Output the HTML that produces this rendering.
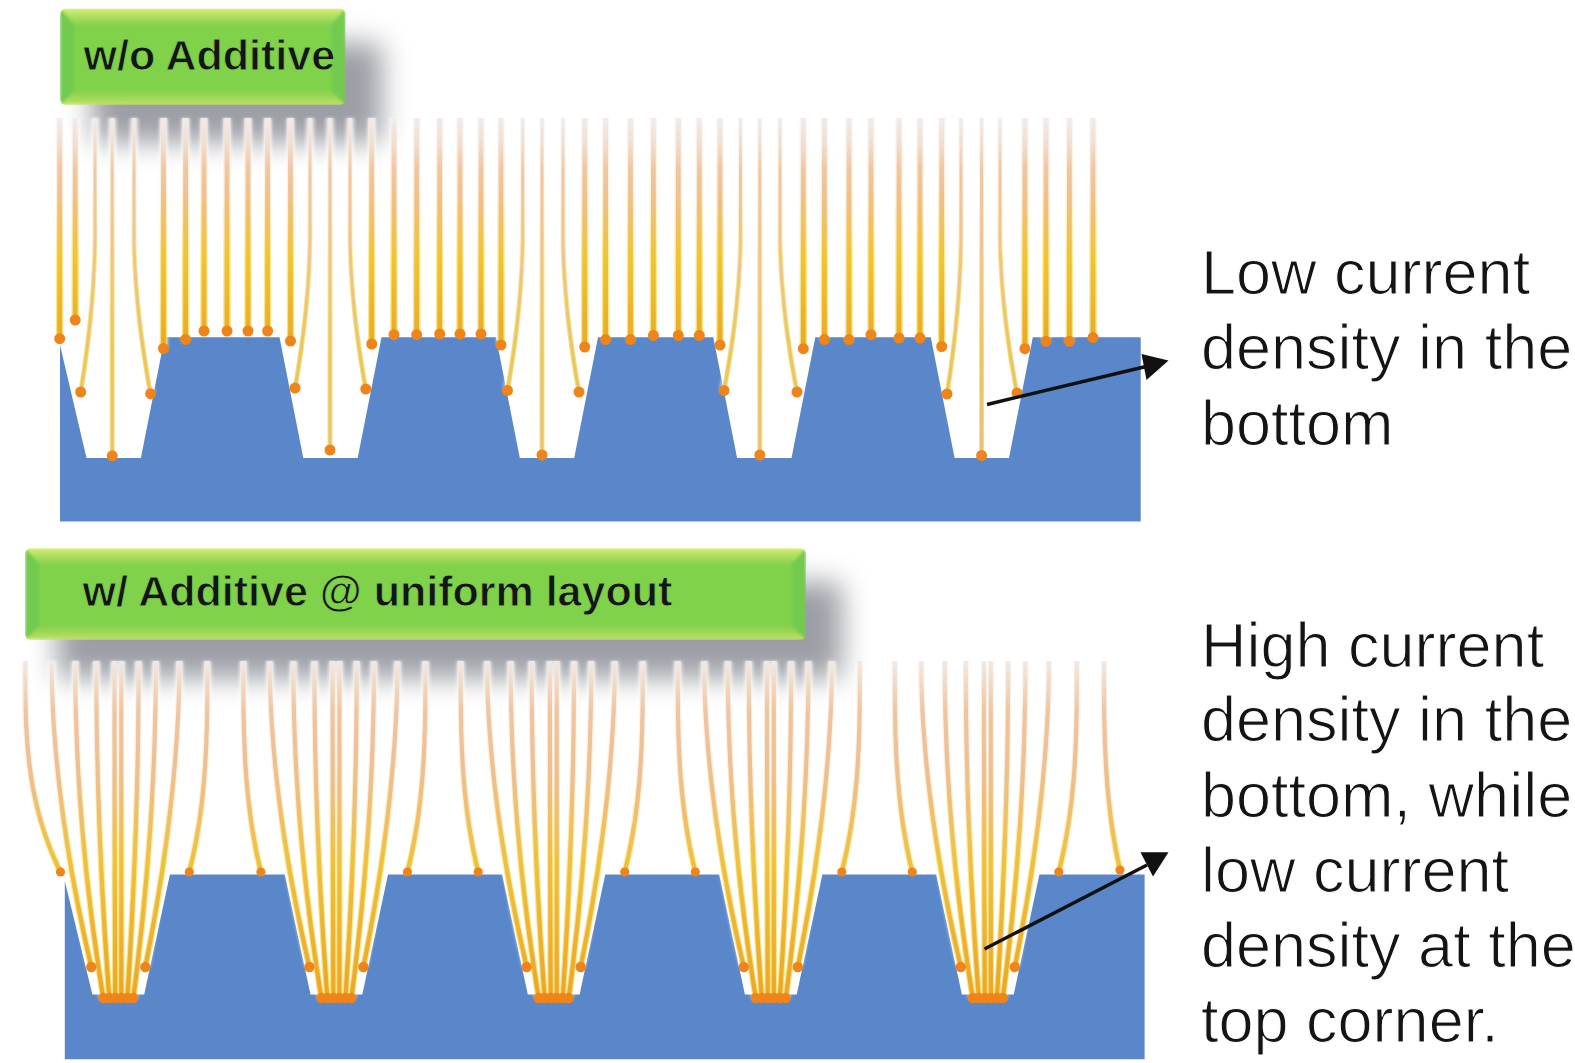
<!DOCTYPE html>
<html><head><meta charset="utf-8"><style>
html,body{margin:0;padding:0;background:#fff;}
body{width:1575px;height:1063px;overflow:hidden;font-family:"Liberation Sans",sans-serif;}
svg{display:block;}
</style></head><body>
<svg width="1575" height="1063" viewBox="0 0 1575 1063">
<defs>
<linearGradient id="lgTop" gradientUnits="userSpaceOnUse" x1="0" y1="118" x2="0" y2="350">
  <stop offset="0" stop-color="#f0ecec"/>
  <stop offset="0.12" stop-color="#f2dccc"/>
  <stop offset="0.22" stop-color="#f0c6a4"/>
  <stop offset="0.38" stop-color="#f0bf80"/>
  <stop offset="0.6" stop-color="#f0c434"/>
  <stop offset="1" stop-color="#eaa824"/>
</linearGradient>
<linearGradient id="lgTopT" gradientUnits="userSpaceOnUse" x1="0" y1="118" x2="0" y2="460">
  <stop offset="0" stop-color="#f0ecec"/>
  <stop offset="0.08" stop-color="#f2dccc"/>
  <stop offset="0.16" stop-color="#f0c6a4"/>
  <stop offset="0.4" stop-color="#efc490"/>
  <stop offset="0.7" stop-color="#eac660"/>
  <stop offset="1" stop-color="#e6c27e"/>
</linearGradient>
<linearGradient id="lgBot" gradientUnits="userSpaceOnUse" x1="0" y1="657" x2="0" y2="1000">
  <stop offset="0" stop-color="#f0ecec"/>
  <stop offset="0.08" stop-color="#f2d8c4"/>
  <stop offset="0.16" stop-color="#f0c4a0"/>
  <stop offset="0.35" stop-color="#efbe90"/>
  <stop offset="0.6" stop-color="#efc040"/>
  <stop offset="1" stop-color="#eca624"/>
</linearGradient>
<linearGradient id="lgEdgeT" gradientUnits="userSpaceOnUse" x1="0" y1="118" x2="0" y2="350">
  <stop offset="0" stop-color="#f4f0ee" stop-opacity="0.6"/>
  <stop offset="0.3" stop-color="#f8e8c8" stop-opacity="0.6"/>
  <stop offset="0.6" stop-color="#f6e680" stop-opacity="0.8"/>
  <stop offset="1" stop-color="#f2d860" stop-opacity="0.8"/>
</linearGradient>
<linearGradient id="lgEdgeB" gradientUnits="userSpaceOnUse" x1="0" y1="657" x2="0" y2="1000">
  <stop offset="0" stop-color="#f4f0ee" stop-opacity="0.6"/>
  <stop offset="0.3" stop-color="#f8e8c8" stop-opacity="0.6"/>
  <stop offset="0.6" stop-color="#f6e680" stop-opacity="0.8"/>
  <stop offset="1" stop-color="#f2d860" stop-opacity="0.8"/>
</linearGradient>
<linearGradient id="gTopF" x1="0" y1="0" x2="0" y2="1">
  <stop offset="0" stop-color="#d8ee76"/><stop offset="0.35" stop-color="#b8e262"/><stop offset="1" stop-color="#8ad252"/>
</linearGradient>
<linearGradient id="gBotF" x1="0" y1="0" x2="0" y2="1">
  <stop offset="0" stop-color="#86d150"/><stop offset="0.7" stop-color="#aadc5a"/><stop offset="1" stop-color="#c8e66e"/>
</linearGradient>
<filter id="shadow" x="-30%" y="-80%" width="160%" height="260%">
  <feGaussianBlur stdDeviation="14"/>
</filter>
<filter id="soft" x="-10%" y="-10%" width="120%" height="120%">
  <feGaussianBlur stdDeviation="1.6"/>
</filter>
<filter id="bsoft" x="-5%" y="-10%" width="110%" height="120%">
  <feGaussianBlur stdDeviation="1.4"/>
</filter>
</defs>
<rect x="92" y="43" width="290" height="99" rx="8" fill="#50525e" opacity="0.56" filter="url(#shadow)"/>
<rect x="57" y="582" width="785" height="96" rx="8" fill="#50525e" opacity="0.56" filter="url(#shadow)"/>
<path d="M60.0,345.0 L86.5,458.0 L140.9,458.0 L164.7,337.2 L279.5,337.2 L303.3,458.0 L357.7,458.0 L381.5,337.2 L496.0,337.2 L519.8,458.0 L574.2,458.0 L598.0,337.2 L713.3,337.2 L737.1,458.0 L791.5,458.0 L815.3,337.2 L930.8,337.2 L954.6,458.0 L1009.0,458.0 L1032.8,337.2 L1140.7,337.2 L1140.7,521.5 L60.0,521.5 Z" fill="#5a87ca"/>
<path d="M64.8,881.0 L92.4,994.5 L144.2,994.5 L169.9,874.6 L284.8,874.6 L310.5,994.5 L362.3,994.5 L388.0,874.6 L502.1,874.6 L527.8,994.5 L579.6,994.5 L605.3,874.6 L719.2,874.6 L744.9,994.5 L796.7,994.5 L822.4,874.6 L936.2,874.6 L961.9,994.5 L1013.7,994.5 L1039.4,874.6 L1144.6,874.6 L1144.6,1059.2 L64.8,1059.2 Z" fill="#5a87ca"/>
<g fill="none" stroke="#fff" stroke-width="9" opacity="0.6" filter="url(#soft)"><path d="M59.7,118.0 L59.7,338.7"/><path d="M75.2,118.0 L75.2,320.0"/><path d="M95.0,118.0 L95.0,235.0 L95.0,240.6 L94.9,246.2 L94.7,251.8 L94.6,257.4 L94.4,263.0 L94.1,268.6 L93.8,274.2 L93.5,279.9 L93.1,285.5 L92.8,291.1 L92.3,296.7 L91.9,302.3 L91.4,307.9 L90.9,313.5 L90.4,319.1 L89.8,324.7 L89.2,330.3 L88.5,335.9 L87.9,341.5 L87.2,347.1 L86.5,352.8 L85.7,358.4 L85.0,364.0 L84.2,369.6 L83.3,375.2 L82.5,380.8 L81.6,386.4 L80.7,392.0"/><path d="M112.2,118.0 L112.2,455.8"/><path d="M134.0,118.0 L134.0,235.0 L134.0,240.7 L134.1,246.3 L134.3,252.0 L134.5,257.7 L134.7,263.3 L135.0,269.0 L135.4,274.7 L135.7,280.3 L136.2,286.0 L136.6,291.7 L137.1,297.3 L137.6,303.0 L138.2,308.7 L138.8,314.4 L139.4,320.0 L140.1,325.7 L140.8,331.4 L141.5,337.0 L142.3,342.7 L143.1,348.4 L143.9,354.0 L144.8,359.7 L145.7,365.4 L146.6,371.0 L147.5,376.7 L148.5,382.4 L149.5,388.0 L150.6,393.7"/><path d="M163.5,118.0 L163.5,348.5"/><path d="M185.6,118.0 L185.6,339.5"/><path d="M204.0,118.0 L204.0,331.0"/><path d="M227.0,118.0 L227.0,331.0"/><path d="M248.0,118.0 L248.0,331.0"/><path d="M267.6,118.0 L267.6,331.0"/><path d="M290.5,118.0 L290.5,341.0"/><path d="M310.0,118.0 L310.0,235.0 L310.0,240.5 L309.9,245.9 L309.7,251.4 L309.5,256.9 L309.3,262.3 L309.1,267.8 L308.8,273.2 L308.4,278.7 L308.1,284.2 L307.6,289.6 L307.2,295.1 L306.7,300.6 L306.2,306.0 L305.7,311.5 L305.1,317.0 L304.5,322.4 L303.9,327.9 L303.2,333.4 L302.5,338.8 L301.8,344.3 L301.1,349.8 L300.3,355.2 L299.5,360.7 L298.6,366.1 L297.8,371.6 L296.9,377.1 L296.0,382.5 L295.0,388.0"/><path d="M330.0,118.0 L330.0,450.0"/><path d="M350.0,118.0 L350.0,235.0 L350.0,240.5 L350.1,246.0 L350.3,251.5 L350.5,257.0 L350.7,262.5 L351.0,268.0 L351.3,273.5 L351.7,279.0 L352.0,284.5 L352.5,290.0 L352.9,295.5 L353.4,301.0 L354.0,306.5 L354.5,312.0 L355.1,317.5 L355.8,323.0 L356.4,328.5 L357.1,334.0 L357.9,339.5 L358.6,345.0 L359.4,350.5 L360.2,356.0 L361.1,361.5 L362.0,367.0 L362.9,372.5 L363.8,378.0 L364.8,383.5 L365.8,389.0"/><path d="M371.7,118.0 L371.7,344.0"/><path d="M394.0,118.0 L394.0,334.7"/><path d="M416.7,118.0 L416.7,334.7"/><path d="M439.7,118.0 L439.7,334.0"/><path d="M460.0,118.0 L460.0,334.0"/><path d="M481.0,118.0 L481.0,334.0"/><path d="M501.0,118.0 L501.0,345.0"/><path d="M522.7,118.0 L522.7,235.0 L522.7,240.6 L522.6,246.1 L522.4,251.7 L522.2,257.2 L522.0,262.8 L521.7,268.3 L521.4,273.9 L521.1,279.4 L520.7,285.0 L520.3,290.5 L519.9,296.1 L519.4,301.6 L518.9,307.2 L518.3,312.8 L517.7,318.3 L517.1,323.9 L516.5,329.4 L515.8,335.0 L515.1,340.5 L514.4,346.1 L513.6,351.6 L512.8,357.2 L512.0,362.7 L511.1,368.3 L510.2,373.8 L509.3,379.4 L508.4,384.9 L507.4,390.5"/><path d="M542.0,118.0 L542.0,455.0"/><path d="M563.0,118.0 L563.0,235.0 L563.0,240.6 L563.1,246.2 L563.3,251.8 L563.5,257.4 L563.7,263.0 L564.0,268.6 L564.3,274.2 L564.7,279.9 L565.1,285.5 L565.5,291.1 L566.0,296.7 L566.5,302.3 L567.0,307.9 L567.6,313.5 L568.2,319.1 L568.8,324.7 L569.5,330.3 L570.2,335.9 L571.0,341.5 L571.7,347.1 L572.5,352.8 L573.4,358.4 L574.2,364.0 L575.1,369.6 L576.0,375.2 L577.0,380.8 L578.0,386.4 L579.0,392.0"/><path d="M584.7,118.0 L584.7,347.0"/><path d="M605.6,118.0 L605.6,339.6"/><path d="M630.5,118.0 L630.5,339.6"/><path d="M653.4,118.0 L653.4,335.5"/><path d="M678.3,118.0 L678.3,335.5"/><path d="M699.3,118.0 L699.3,335.5"/><path d="M720.0,118.0 L720.0,345.0"/><path d="M740.5,118.0 L740.5,235.0 L740.5,240.6 L740.4,246.1 L740.2,251.7 L740.0,257.2 L739.8,262.8 L739.5,268.3 L739.1,273.9 L738.8,279.4 L738.4,285.0 L737.9,290.5 L737.4,296.1 L736.9,301.6 L736.4,307.2 L735.8,312.8 L735.1,318.3 L734.5,323.9 L733.8,329.4 L733.1,335.0 L732.3,340.5 L731.5,346.1 L730.7,351.6 L729.8,357.2 L728.9,362.7 L728.0,368.3 L727.0,373.8 L726.1,379.4 L725.0,384.9 L724.0,390.5"/><path d="M759.8,118.0 L759.8,455.0"/><path d="M780.0,118.0 L780.0,235.0 L780.0,240.6 L780.1,246.2 L780.3,251.8 L780.5,257.4 L780.8,263.0 L781.1,268.6 L781.4,274.2 L781.8,279.9 L782.2,285.5 L782.7,291.1 L783.2,296.7 L783.7,302.3 L784.3,307.9 L784.9,313.5 L785.5,319.1 L786.2,324.7 L786.9,330.3 L787.7,335.9 L788.5,341.5 L789.3,347.1 L790.1,352.8 L791.0,358.4 L791.9,364.0 L792.9,369.6 L793.9,375.2 L794.9,380.8 L795.9,386.4 L797.0,392.0"/><path d="M803.3,118.0 L803.3,348.7"/><path d="M824.4,118.0 L824.4,339.6"/><path d="M849.0,118.0 L849.0,339.6"/><path d="M871.0,118.0 L871.0,334.7"/><path d="M899.0,118.0 L899.0,338.0"/><path d="M920.0,118.0 L920.0,338.0"/><path d="M941.7,118.0 L941.7,346.5"/><path d="M961.0,118.0 L961.0,235.0 L961.0,240.7 L960.9,246.4 L960.7,252.0 L960.6,257.7 L960.4,263.4 L960.1,269.1 L959.8,274.8 L959.5,280.4 L959.2,286.1 L958.8,291.8 L958.4,297.5 L958.0,303.1 L957.5,308.8 L957.0,314.5 L956.4,320.2 L955.9,325.9 L955.3,331.5 L954.7,337.2 L954.0,342.9 L953.4,348.6 L952.7,354.2 L951.9,359.9 L951.2,365.6 L950.4,371.3 L949.6,377.0 L948.7,382.6 L947.9,388.3 L947.0,394.0"/><path d="M981.6,118.0 L981.6,455.5"/><path d="M1000.0,118.0 L1000.0,235.0 L1000.0,240.6 L1000.1,246.3 L1000.3,251.9 L1000.5,257.6 L1000.8,263.2 L1001.1,268.9 L1001.4,274.5 L1001.8,280.1 L1002.2,285.8 L1002.7,291.4 L1003.2,297.1 L1003.7,302.7 L1004.3,308.4 L1004.9,314.0 L1005.5,319.6 L1006.2,325.3 L1006.9,330.9 L1007.7,336.6 L1008.5,342.2 L1009.3,347.9 L1010.1,353.5 L1011.0,359.1 L1011.9,364.8 L1012.9,370.4 L1013.9,376.1 L1014.9,381.7 L1015.9,387.4 L1017.0,393.0"/><path d="M1024.9,118.0 L1024.9,348.7"/><path d="M1046.0,118.0 L1046.0,341.3"/><path d="M1069.4,118.0 L1069.4,341.3"/><path d="M1093.0,118.0 L1093.0,337.6"/></g>
<g fill="none" stroke="url(#lgEdgeT)" stroke-width="7.5"><path d="M59.7,118.0 L59.7,338.7"/><path d="M75.2,118.0 L75.2,320.0"/><path d="M163.5,118.0 L163.5,348.5"/><path d="M185.6,118.0 L185.6,339.5"/><path d="M204.0,118.0 L204.0,331.0"/><path d="M227.0,118.0 L227.0,331.0"/><path d="M248.0,118.0 L248.0,331.0"/><path d="M267.6,118.0 L267.6,331.0"/><path d="M290.5,118.0 L290.5,341.0"/><path d="M371.7,118.0 L371.7,344.0"/><path d="M394.0,118.0 L394.0,334.7"/><path d="M416.7,118.0 L416.7,334.7"/><path d="M439.7,118.0 L439.7,334.0"/><path d="M460.0,118.0 L460.0,334.0"/><path d="M481.0,118.0 L481.0,334.0"/><path d="M501.0,118.0 L501.0,345.0"/><path d="M584.7,118.0 L584.7,347.0"/><path d="M605.6,118.0 L605.6,339.6"/><path d="M630.5,118.0 L630.5,339.6"/><path d="M653.4,118.0 L653.4,335.5"/><path d="M678.3,118.0 L678.3,335.5"/><path d="M699.3,118.0 L699.3,335.5"/><path d="M720.0,118.0 L720.0,345.0"/><path d="M803.3,118.0 L803.3,348.7"/><path d="M824.4,118.0 L824.4,339.6"/><path d="M849.0,118.0 L849.0,339.6"/><path d="M871.0,118.0 L871.0,334.7"/><path d="M899.0,118.0 L899.0,338.0"/><path d="M920.0,118.0 L920.0,338.0"/><path d="M941.7,118.0 L941.7,346.5"/><path d="M1024.9,118.0 L1024.9,348.7"/><path d="M1046.0,118.0 L1046.0,341.3"/><path d="M1069.4,118.0 L1069.4,341.3"/><path d="M1093.0,118.0 L1093.0,337.6"/></g>
<g fill="none" stroke="url(#lgTop)" stroke-width="4.8"><path d="M59.7,118.0 L59.7,338.7"/><path d="M75.2,118.0 L75.2,320.0"/><path d="M163.5,118.0 L163.5,348.5"/><path d="M185.6,118.0 L185.6,339.5"/><path d="M204.0,118.0 L204.0,331.0"/><path d="M227.0,118.0 L227.0,331.0"/><path d="M248.0,118.0 L248.0,331.0"/><path d="M267.6,118.0 L267.6,331.0"/><path d="M290.5,118.0 L290.5,341.0"/><path d="M371.7,118.0 L371.7,344.0"/><path d="M394.0,118.0 L394.0,334.7"/><path d="M416.7,118.0 L416.7,334.7"/><path d="M439.7,118.0 L439.7,334.0"/><path d="M460.0,118.0 L460.0,334.0"/><path d="M481.0,118.0 L481.0,334.0"/><path d="M501.0,118.0 L501.0,345.0"/><path d="M584.7,118.0 L584.7,347.0"/><path d="M605.6,118.0 L605.6,339.6"/><path d="M630.5,118.0 L630.5,339.6"/><path d="M653.4,118.0 L653.4,335.5"/><path d="M678.3,118.0 L678.3,335.5"/><path d="M699.3,118.0 L699.3,335.5"/><path d="M720.0,118.0 L720.0,345.0"/><path d="M803.3,118.0 L803.3,348.7"/><path d="M824.4,118.0 L824.4,339.6"/><path d="M849.0,118.0 L849.0,339.6"/><path d="M871.0,118.0 L871.0,334.7"/><path d="M899.0,118.0 L899.0,338.0"/><path d="M920.0,118.0 L920.0,338.0"/><path d="M941.7,118.0 L941.7,346.5"/><path d="M1024.9,118.0 L1024.9,348.7"/><path d="M1046.0,118.0 L1046.0,341.3"/><path d="M1069.4,118.0 L1069.4,341.3"/><path d="M1093.0,118.0 L1093.0,337.6"/></g>
<g fill="none" stroke="url(#lgEdgeT)" stroke-width="5"><path d="M95.0,118.0 L95.0,235.0 L95.0,240.6 L94.9,246.2 L94.7,251.8 L94.6,257.4 L94.4,263.0 L94.1,268.6 L93.8,274.2 L93.5,279.9 L93.1,285.5 L92.8,291.1 L92.3,296.7 L91.9,302.3 L91.4,307.9 L90.9,313.5 L90.4,319.1 L89.8,324.7 L89.2,330.3 L88.5,335.9 L87.9,341.5 L87.2,347.1 L86.5,352.8 L85.7,358.4 L85.0,364.0 L84.2,369.6 L83.3,375.2 L82.5,380.8 L81.6,386.4 L80.7,392.0"/><path d="M112.2,118.0 L112.2,455.8"/><path d="M134.0,118.0 L134.0,235.0 L134.0,240.7 L134.1,246.3 L134.3,252.0 L134.5,257.7 L134.7,263.3 L135.0,269.0 L135.4,274.7 L135.7,280.3 L136.2,286.0 L136.6,291.7 L137.1,297.3 L137.6,303.0 L138.2,308.7 L138.8,314.4 L139.4,320.0 L140.1,325.7 L140.8,331.4 L141.5,337.0 L142.3,342.7 L143.1,348.4 L143.9,354.0 L144.8,359.7 L145.7,365.4 L146.6,371.0 L147.5,376.7 L148.5,382.4 L149.5,388.0 L150.6,393.7"/><path d="M310.0,118.0 L310.0,235.0 L310.0,240.5 L309.9,245.9 L309.7,251.4 L309.5,256.9 L309.3,262.3 L309.1,267.8 L308.8,273.2 L308.4,278.7 L308.1,284.2 L307.6,289.6 L307.2,295.1 L306.7,300.6 L306.2,306.0 L305.7,311.5 L305.1,317.0 L304.5,322.4 L303.9,327.9 L303.2,333.4 L302.5,338.8 L301.8,344.3 L301.1,349.8 L300.3,355.2 L299.5,360.7 L298.6,366.1 L297.8,371.6 L296.9,377.1 L296.0,382.5 L295.0,388.0"/><path d="M330.0,118.0 L330.0,450.0"/><path d="M350.0,118.0 L350.0,235.0 L350.0,240.5 L350.1,246.0 L350.3,251.5 L350.5,257.0 L350.7,262.5 L351.0,268.0 L351.3,273.5 L351.7,279.0 L352.0,284.5 L352.5,290.0 L352.9,295.5 L353.4,301.0 L354.0,306.5 L354.5,312.0 L355.1,317.5 L355.8,323.0 L356.4,328.5 L357.1,334.0 L357.9,339.5 L358.6,345.0 L359.4,350.5 L360.2,356.0 L361.1,361.5 L362.0,367.0 L362.9,372.5 L363.8,378.0 L364.8,383.5 L365.8,389.0"/><path d="M522.7,118.0 L522.7,235.0 L522.7,240.6 L522.6,246.1 L522.4,251.7 L522.2,257.2 L522.0,262.8 L521.7,268.3 L521.4,273.9 L521.1,279.4 L520.7,285.0 L520.3,290.5 L519.9,296.1 L519.4,301.6 L518.9,307.2 L518.3,312.8 L517.7,318.3 L517.1,323.9 L516.5,329.4 L515.8,335.0 L515.1,340.5 L514.4,346.1 L513.6,351.6 L512.8,357.2 L512.0,362.7 L511.1,368.3 L510.2,373.8 L509.3,379.4 L508.4,384.9 L507.4,390.5"/><path d="M542.0,118.0 L542.0,455.0"/><path d="M563.0,118.0 L563.0,235.0 L563.0,240.6 L563.1,246.2 L563.3,251.8 L563.5,257.4 L563.7,263.0 L564.0,268.6 L564.3,274.2 L564.7,279.9 L565.1,285.5 L565.5,291.1 L566.0,296.7 L566.5,302.3 L567.0,307.9 L567.6,313.5 L568.2,319.1 L568.8,324.7 L569.5,330.3 L570.2,335.9 L571.0,341.5 L571.7,347.1 L572.5,352.8 L573.4,358.4 L574.2,364.0 L575.1,369.6 L576.0,375.2 L577.0,380.8 L578.0,386.4 L579.0,392.0"/><path d="M740.5,118.0 L740.5,235.0 L740.5,240.6 L740.4,246.1 L740.2,251.7 L740.0,257.2 L739.8,262.8 L739.5,268.3 L739.1,273.9 L738.8,279.4 L738.4,285.0 L737.9,290.5 L737.4,296.1 L736.9,301.6 L736.4,307.2 L735.8,312.8 L735.1,318.3 L734.5,323.9 L733.8,329.4 L733.1,335.0 L732.3,340.5 L731.5,346.1 L730.7,351.6 L729.8,357.2 L728.9,362.7 L728.0,368.3 L727.0,373.8 L726.1,379.4 L725.0,384.9 L724.0,390.5"/><path d="M759.8,118.0 L759.8,455.0"/><path d="M780.0,118.0 L780.0,235.0 L780.0,240.6 L780.1,246.2 L780.3,251.8 L780.5,257.4 L780.8,263.0 L781.1,268.6 L781.4,274.2 L781.8,279.9 L782.2,285.5 L782.7,291.1 L783.2,296.7 L783.7,302.3 L784.3,307.9 L784.9,313.5 L785.5,319.1 L786.2,324.7 L786.9,330.3 L787.7,335.9 L788.5,341.5 L789.3,347.1 L790.1,352.8 L791.0,358.4 L791.9,364.0 L792.9,369.6 L793.9,375.2 L794.9,380.8 L795.9,386.4 L797.0,392.0"/><path d="M961.0,118.0 L961.0,235.0 L961.0,240.7 L960.9,246.4 L960.7,252.0 L960.6,257.7 L960.4,263.4 L960.1,269.1 L959.8,274.8 L959.5,280.4 L959.2,286.1 L958.8,291.8 L958.4,297.5 L958.0,303.1 L957.5,308.8 L957.0,314.5 L956.4,320.2 L955.9,325.9 L955.3,331.5 L954.7,337.2 L954.0,342.9 L953.4,348.6 L952.7,354.2 L951.9,359.9 L951.2,365.6 L950.4,371.3 L949.6,377.0 L948.7,382.6 L947.9,388.3 L947.0,394.0"/><path d="M981.6,118.0 L981.6,455.5"/><path d="M1000.0,118.0 L1000.0,235.0 L1000.0,240.6 L1000.1,246.3 L1000.3,251.9 L1000.5,257.6 L1000.8,263.2 L1001.1,268.9 L1001.4,274.5 L1001.8,280.1 L1002.2,285.8 L1002.7,291.4 L1003.2,297.1 L1003.7,302.7 L1004.3,308.4 L1004.9,314.0 L1005.5,319.6 L1006.2,325.3 L1006.9,330.9 L1007.7,336.6 L1008.5,342.2 L1009.3,347.9 L1010.1,353.5 L1011.0,359.1 L1011.9,364.8 L1012.9,370.4 L1013.9,376.1 L1014.9,381.7 L1015.9,387.4 L1017.0,393.0"/></g>
<g fill="none" stroke="url(#lgTopT)" stroke-width="3"><path d="M95.0,118.0 L95.0,235.0 L95.0,240.6 L94.9,246.2 L94.7,251.8 L94.6,257.4 L94.4,263.0 L94.1,268.6 L93.8,274.2 L93.5,279.9 L93.1,285.5 L92.8,291.1 L92.3,296.7 L91.9,302.3 L91.4,307.9 L90.9,313.5 L90.4,319.1 L89.8,324.7 L89.2,330.3 L88.5,335.9 L87.9,341.5 L87.2,347.1 L86.5,352.8 L85.7,358.4 L85.0,364.0 L84.2,369.6 L83.3,375.2 L82.5,380.8 L81.6,386.4 L80.7,392.0"/><path d="M112.2,118.0 L112.2,455.8"/><path d="M134.0,118.0 L134.0,235.0 L134.0,240.7 L134.1,246.3 L134.3,252.0 L134.5,257.7 L134.7,263.3 L135.0,269.0 L135.4,274.7 L135.7,280.3 L136.2,286.0 L136.6,291.7 L137.1,297.3 L137.6,303.0 L138.2,308.7 L138.8,314.4 L139.4,320.0 L140.1,325.7 L140.8,331.4 L141.5,337.0 L142.3,342.7 L143.1,348.4 L143.9,354.0 L144.8,359.7 L145.7,365.4 L146.6,371.0 L147.5,376.7 L148.5,382.4 L149.5,388.0 L150.6,393.7"/><path d="M310.0,118.0 L310.0,235.0 L310.0,240.5 L309.9,245.9 L309.7,251.4 L309.5,256.9 L309.3,262.3 L309.1,267.8 L308.8,273.2 L308.4,278.7 L308.1,284.2 L307.6,289.6 L307.2,295.1 L306.7,300.6 L306.2,306.0 L305.7,311.5 L305.1,317.0 L304.5,322.4 L303.9,327.9 L303.2,333.4 L302.5,338.8 L301.8,344.3 L301.1,349.8 L300.3,355.2 L299.5,360.7 L298.6,366.1 L297.8,371.6 L296.9,377.1 L296.0,382.5 L295.0,388.0"/><path d="M330.0,118.0 L330.0,450.0"/><path d="M350.0,118.0 L350.0,235.0 L350.0,240.5 L350.1,246.0 L350.3,251.5 L350.5,257.0 L350.7,262.5 L351.0,268.0 L351.3,273.5 L351.7,279.0 L352.0,284.5 L352.5,290.0 L352.9,295.5 L353.4,301.0 L354.0,306.5 L354.5,312.0 L355.1,317.5 L355.8,323.0 L356.4,328.5 L357.1,334.0 L357.9,339.5 L358.6,345.0 L359.4,350.5 L360.2,356.0 L361.1,361.5 L362.0,367.0 L362.9,372.5 L363.8,378.0 L364.8,383.5 L365.8,389.0"/><path d="M522.7,118.0 L522.7,235.0 L522.7,240.6 L522.6,246.1 L522.4,251.7 L522.2,257.2 L522.0,262.8 L521.7,268.3 L521.4,273.9 L521.1,279.4 L520.7,285.0 L520.3,290.5 L519.9,296.1 L519.4,301.6 L518.9,307.2 L518.3,312.8 L517.7,318.3 L517.1,323.9 L516.5,329.4 L515.8,335.0 L515.1,340.5 L514.4,346.1 L513.6,351.6 L512.8,357.2 L512.0,362.7 L511.1,368.3 L510.2,373.8 L509.3,379.4 L508.4,384.9 L507.4,390.5"/><path d="M542.0,118.0 L542.0,455.0"/><path d="M563.0,118.0 L563.0,235.0 L563.0,240.6 L563.1,246.2 L563.3,251.8 L563.5,257.4 L563.7,263.0 L564.0,268.6 L564.3,274.2 L564.7,279.9 L565.1,285.5 L565.5,291.1 L566.0,296.7 L566.5,302.3 L567.0,307.9 L567.6,313.5 L568.2,319.1 L568.8,324.7 L569.5,330.3 L570.2,335.9 L571.0,341.5 L571.7,347.1 L572.5,352.8 L573.4,358.4 L574.2,364.0 L575.1,369.6 L576.0,375.2 L577.0,380.8 L578.0,386.4 L579.0,392.0"/><path d="M740.5,118.0 L740.5,235.0 L740.5,240.6 L740.4,246.1 L740.2,251.7 L740.0,257.2 L739.8,262.8 L739.5,268.3 L739.1,273.9 L738.8,279.4 L738.4,285.0 L737.9,290.5 L737.4,296.1 L736.9,301.6 L736.4,307.2 L735.8,312.8 L735.1,318.3 L734.5,323.9 L733.8,329.4 L733.1,335.0 L732.3,340.5 L731.5,346.1 L730.7,351.6 L729.8,357.2 L728.9,362.7 L728.0,368.3 L727.0,373.8 L726.1,379.4 L725.0,384.9 L724.0,390.5"/><path d="M759.8,118.0 L759.8,455.0"/><path d="M780.0,118.0 L780.0,235.0 L780.0,240.6 L780.1,246.2 L780.3,251.8 L780.5,257.4 L780.8,263.0 L781.1,268.6 L781.4,274.2 L781.8,279.9 L782.2,285.5 L782.7,291.1 L783.2,296.7 L783.7,302.3 L784.3,307.9 L784.9,313.5 L785.5,319.1 L786.2,324.7 L786.9,330.3 L787.7,335.9 L788.5,341.5 L789.3,347.1 L790.1,352.8 L791.0,358.4 L791.9,364.0 L792.9,369.6 L793.9,375.2 L794.9,380.8 L795.9,386.4 L797.0,392.0"/><path d="M961.0,118.0 L961.0,235.0 L961.0,240.7 L960.9,246.4 L960.7,252.0 L960.6,257.7 L960.4,263.4 L960.1,269.1 L959.8,274.8 L959.5,280.4 L959.2,286.1 L958.8,291.8 L958.4,297.5 L958.0,303.1 L957.5,308.8 L957.0,314.5 L956.4,320.2 L955.9,325.9 L955.3,331.5 L954.7,337.2 L954.0,342.9 L953.4,348.6 L952.7,354.2 L951.9,359.9 L951.2,365.6 L950.4,371.3 L949.6,377.0 L948.7,382.6 L947.9,388.3 L947.0,394.0"/><path d="M981.6,118.0 L981.6,455.5"/><path d="M1000.0,118.0 L1000.0,235.0 L1000.0,240.6 L1000.1,246.3 L1000.3,251.9 L1000.5,257.6 L1000.8,263.2 L1001.1,268.9 L1001.4,274.5 L1001.8,280.1 L1002.2,285.8 L1002.7,291.4 L1003.2,297.1 L1003.7,302.7 L1004.3,308.4 L1004.9,314.0 L1005.5,319.6 L1006.2,325.3 L1006.9,330.9 L1007.7,336.6 L1008.5,342.2 L1009.3,347.9 L1010.1,353.5 L1011.0,359.1 L1011.9,364.8 L1012.9,370.4 L1013.9,376.1 L1014.9,381.7 L1015.9,387.4 L1017.0,393.0"/></g>
<g fill="#ef841a"><circle cx="59.7" cy="338.7" r="5.5"/><circle cx="75.2" cy="320.0" r="5.5"/><circle cx="80.7" cy="392.0" r="5.5"/><circle cx="112.2" cy="455.8" r="5.5"/><circle cx="150.6" cy="393.7" r="5.5"/><circle cx="163.5" cy="348.5" r="5.5"/><circle cx="185.6" cy="339.5" r="5.5"/><circle cx="204.0" cy="331.0" r="5.5"/><circle cx="227.0" cy="331.0" r="5.5"/><circle cx="248.0" cy="331.0" r="5.5"/><circle cx="267.6" cy="331.0" r="5.5"/><circle cx="290.5" cy="341.0" r="5.5"/><circle cx="295.0" cy="388.0" r="5.5"/><circle cx="330.0" cy="450.0" r="5.5"/><circle cx="365.8" cy="389.0" r="5.5"/><circle cx="371.7" cy="344.0" r="5.5"/><circle cx="394.0" cy="334.7" r="5.5"/><circle cx="416.7" cy="334.7" r="5.5"/><circle cx="439.7" cy="334.0" r="5.5"/><circle cx="460.0" cy="334.0" r="5.5"/><circle cx="481.0" cy="334.0" r="5.5"/><circle cx="501.0" cy="345.0" r="5.5"/><circle cx="507.4" cy="390.5" r="5.5"/><circle cx="542.0" cy="455.0" r="5.5"/><circle cx="579.0" cy="392.0" r="5.5"/><circle cx="584.7" cy="347.0" r="5.5"/><circle cx="605.6" cy="339.6" r="5.5"/><circle cx="630.5" cy="339.6" r="5.5"/><circle cx="653.4" cy="335.5" r="5.5"/><circle cx="678.3" cy="335.5" r="5.5"/><circle cx="699.3" cy="335.5" r="5.5"/><circle cx="720.0" cy="345.0" r="5.5"/><circle cx="724.0" cy="390.5" r="5.5"/><circle cx="759.8" cy="455.0" r="5.5"/><circle cx="797.0" cy="392.0" r="5.5"/><circle cx="803.3" cy="348.7" r="5.5"/><circle cx="824.4" cy="339.6" r="5.5"/><circle cx="849.0" cy="339.6" r="5.5"/><circle cx="871.0" cy="334.7" r="5.5"/><circle cx="899.0" cy="338.0" r="5.5"/><circle cx="920.0" cy="338.0" r="5.5"/><circle cx="941.7" cy="346.5" r="5.5"/><circle cx="947.0" cy="394.0" r="5.5"/><circle cx="981.6" cy="455.5" r="5.5"/><circle cx="1017.0" cy="393.0" r="5.5"/><circle cx="1024.9" cy="348.7" r="5.5"/><circle cx="1046.0" cy="341.3" r="5.5"/><circle cx="1069.4" cy="341.3" r="5.5"/><circle cx="1093.0" cy="337.6" r="5.5"/></g>
<g fill="none" stroke="#fff" stroke-width="9" opacity="0.6" filter="url(#soft)"><path d="M25.3,661.0 L25.3,671.0 L25.3,678.2 L25.3,685.4 L25.4,692.5 L25.5,699.7 L25.6,706.9 L25.8,714.1 L26.0,721.2 L26.4,728.4 L26.8,735.6 L27.3,742.8 L27.9,750.0 L28.6,757.1 L29.4,764.3 L30.4,771.5 L31.4,778.7 L32.6,785.9 L34.0,793.0 L35.5,800.2 L37.2,807.4 L39.0,814.6 L41.0,821.8 L43.2,828.9 L45.6,836.1 L48.2,843.3 L50.9,850.5 L53.9,857.6 L57.1,864.8 L60.5,872.0"/><path d="M51.8,661.0 L51.8,671.0 L51.9,681.6 L52.2,692.1 L52.6,702.7 L53.1,713.3 L53.7,723.9 L54.5,734.4 L55.3,745.0 L56.2,755.6 L57.2,766.1 L58.3,776.7 L59.5,787.3 L60.8,797.9 L62.1,808.4 L63.5,819.0 L65.1,829.6 L66.6,840.1 L68.3,850.7 L70.0,861.3 L71.8,871.9 L73.7,882.4 L75.7,893.0 L77.7,903.6 L79.8,914.1 L82.0,924.7 L84.2,935.3 L86.5,945.9 L88.9,956.4 L91.3,967.0"/><path d="M75.3,661.0 L75.3,671.0 L75.3,682.7 L75.5,694.4 L75.7,706.0 L76.0,717.7 L76.4,729.4 L76.8,741.1 L77.3,752.8 L77.9,764.4 L78.5,776.1 L79.3,787.8 L80.0,799.5 L80.9,811.1 L81.8,822.8 L82.8,834.5 L83.9,846.2 L85.0,857.9 L86.1,869.5 L87.4,881.2 L88.7,892.9 L90.1,904.6 L91.5,916.2 L93.0,927.9 L94.6,939.6 L96.2,951.3 L97.9,963.0 L99.6,974.6 L101.4,986.3 L103.3,998.0"/><path d="M96.3,661.0 L96.3,671.0 L96.3,682.7 L96.4,694.4 L96.5,706.0 L96.6,717.7 L96.8,729.4 L97.0,741.1 L97.2,752.8 L97.5,764.4 L97.8,776.1 L98.1,787.8 L98.5,799.5 L98.9,811.1 L99.3,822.8 L99.8,834.5 L100.3,846.2 L100.8,857.9 L101.3,869.5 L101.9,881.2 L102.5,892.9 L103.2,904.6 L103.8,916.2 L104.5,927.9 L105.2,939.6 L106.0,951.3 L106.8,963.0 L107.6,974.6 L108.4,986.3 L109.3,998.0"/><path d="M114.5,661.0 L114.5,671.0 L114.5,682.7 L114.5,694.4 L114.5,706.0 L114.5,717.7 L114.5,729.4 L114.5,741.1 L114.6,752.8 L114.6,764.4 L114.6,776.1 L114.6,787.8 L114.6,799.5 L114.7,811.1 L114.7,822.8 L114.7,834.5 L114.7,846.2 L114.8,857.9 L114.8,869.5 L114.8,881.2 L114.9,892.9 L114.9,904.6 L115.0,916.2 L115.0,927.9 L115.1,939.6 L115.1,951.3 L115.1,963.0 L115.2,974.6 L115.2,986.3 L115.3,998.0"/><path d="M121.3,661.0 L121.3,998.0"/><path d="M138.6,661.0 L138.6,671.0 L138.6,682.7 L138.5,694.4 L138.4,706.0 L138.3,717.7 L138.2,729.4 L138.0,741.1 L137.8,752.8 L137.6,764.4 L137.3,776.1 L137.0,787.8 L136.7,799.5 L136.3,811.1 L136.0,822.8 L135.6,834.5 L135.1,846.2 L134.7,857.9 L134.2,869.5 L133.7,881.2 L133.2,892.9 L132.6,904.6 L132.1,916.2 L131.5,927.9 L130.8,939.6 L130.2,951.3 L129.5,963.0 L128.8,974.6 L128.1,986.3 L127.3,998.0"/><path d="M155.8,661.0 L155.8,671.0 L155.8,682.7 L155.7,694.4 L155.5,706.0 L155.2,717.7 L154.9,729.4 L154.6,741.1 L154.2,752.8 L153.7,764.4 L153.2,776.1 L152.6,787.8 L152.0,799.5 L151.3,811.1 L150.6,822.8 L149.8,834.5 L148.9,846.2 L148.0,857.9 L147.1,869.5 L146.1,881.2 L145.0,892.9 L143.9,904.6 L142.8,916.2 L141.6,927.9 L140.3,939.6 L139.0,951.3 L137.7,963.0 L136.3,974.6 L134.8,986.3 L133.3,998.0"/><path d="M179.3,661.0 L179.3,671.0 L179.2,681.6 L179.0,692.1 L178.6,702.7 L178.2,713.3 L177.6,723.9 L177.0,734.4 L176.3,745.0 L175.5,755.6 L174.6,766.1 L173.7,776.7 L172.7,787.3 L171.6,797.9 L170.4,808.4 L169.2,819.0 L167.9,829.6 L166.5,840.1 L165.1,850.7 L163.6,861.3 L162.1,871.9 L160.4,882.4 L158.7,893.0 L157.0,903.6 L155.2,914.1 L153.3,924.7 L151.4,935.3 L149.4,945.9 L147.4,956.4 L145.3,967.0"/><path d="M207.3,661.0 L207.3,671.0 L207.3,678.2 L207.3,685.4 L207.3,692.5 L207.2,699.7 L207.2,706.9 L207.1,714.1 L206.9,721.2 L206.8,728.4 L206.5,735.6 L206.3,742.8 L206.0,750.0 L205.6,757.1 L205.2,764.3 L204.7,771.5 L204.2,778.7 L203.5,785.9 L202.8,793.0 L202.1,800.2 L201.2,807.4 L200.3,814.6 L199.3,821.8 L198.1,828.9 L196.9,836.1 L195.6,843.3 L194.2,850.5 L192.7,857.6 L191.0,864.8 L189.3,872.0"/><path d="M243.4,661.0 L243.4,671.0 L243.4,678.2 L243.4,685.4 L243.4,692.5 L243.5,699.7 L243.5,706.9 L243.6,714.1 L243.8,721.2 L243.9,728.4 L244.1,735.6 L244.4,742.8 L244.7,750.0 L245.0,757.1 L245.4,764.3 L245.9,771.5 L246.4,778.7 L247.1,785.9 L247.7,793.0 L248.5,800.2 L249.3,807.4 L250.2,814.6 L251.2,821.8 L252.3,828.9 L253.5,836.1 L254.8,843.3 L256.1,850.5 L257.6,857.6 L259.2,864.8 L260.9,872.0"/><path d="M269.9,661.0 L269.9,671.0 L270.0,681.6 L270.3,692.1 L270.7,702.7 L271.2,713.3 L271.8,723.9 L272.6,734.4 L273.4,745.0 L274.3,755.6 L275.3,766.1 L276.4,776.7 L277.6,787.3 L278.9,797.9 L280.2,808.4 L281.6,819.0 L283.2,829.6 L284.7,840.1 L286.4,850.7 L288.1,861.3 L289.9,871.9 L291.8,882.4 L293.8,893.0 L295.8,903.6 L297.9,914.1 L300.1,924.7 L302.3,935.3 L304.6,945.9 L307.0,956.4 L309.4,967.0"/><path d="M293.4,661.0 L293.4,671.0 L293.4,682.7 L293.6,694.4 L293.8,706.0 L294.1,717.7 L294.5,729.4 L294.9,741.1 L295.4,752.8 L296.0,764.4 L296.6,776.1 L297.4,787.8 L298.1,799.5 L299.0,811.1 L299.9,822.8 L300.9,834.5 L302.0,846.2 L303.1,857.9 L304.2,869.5 L305.5,881.2 L306.8,892.9 L308.2,904.6 L309.6,916.2 L311.1,927.9 L312.7,939.6 L314.3,951.3 L316.0,963.0 L317.7,974.6 L319.5,986.3 L321.4,998.0"/><path d="M314.4,661.0 L314.4,671.0 L314.4,682.7 L314.5,694.4 L314.6,706.0 L314.7,717.7 L314.9,729.4 L315.1,741.1 L315.3,752.8 L315.6,764.4 L315.9,776.1 L316.2,787.8 L316.6,799.5 L317.0,811.1 L317.4,822.8 L317.9,834.5 L318.4,846.2 L318.9,857.9 L319.4,869.5 L320.0,881.2 L320.6,892.9 L321.3,904.6 L321.9,916.2 L322.6,927.9 L323.3,939.6 L324.1,951.3 L324.9,963.0 L325.7,974.6 L326.5,986.3 L327.4,998.0"/><path d="M332.6,661.0 L332.6,671.0 L332.6,682.7 L332.6,694.4 L332.6,706.0 L332.6,717.7 L332.6,729.4 L332.6,741.1 L332.7,752.8 L332.7,764.4 L332.7,776.1 L332.7,787.8 L332.7,799.5 L332.8,811.1 L332.8,822.8 L332.8,834.5 L332.8,846.2 L332.9,857.9 L332.9,869.5 L332.9,881.2 L333.0,892.9 L333.0,904.6 L333.1,916.2 L333.1,927.9 L333.2,939.6 L333.2,951.3 L333.2,963.0 L333.3,974.6 L333.3,986.3 L333.4,998.0"/><path d="M339.4,661.0 L339.4,998.0"/><path d="M356.7,661.0 L356.7,671.0 L356.7,682.7 L356.6,694.4 L356.5,706.0 L356.4,717.7 L356.3,729.4 L356.1,741.1 L355.9,752.8 L355.7,764.4 L355.4,776.1 L355.1,787.8 L354.8,799.5 L354.4,811.1 L354.1,822.8 L353.7,834.5 L353.2,846.2 L352.8,857.9 L352.3,869.5 L351.8,881.2 L351.3,892.9 L350.7,904.6 L350.2,916.2 L349.6,927.9 L348.9,939.6 L348.3,951.3 L347.6,963.0 L346.9,974.6 L346.2,986.3 L345.4,998.0"/><path d="M373.9,661.0 L373.9,671.0 L373.9,682.7 L373.8,694.4 L373.6,706.0 L373.3,717.7 L373.0,729.4 L372.7,741.1 L372.3,752.8 L371.8,764.4 L371.3,776.1 L370.7,787.8 L370.1,799.5 L369.4,811.1 L368.7,822.8 L367.9,834.5 L367.0,846.2 L366.1,857.9 L365.2,869.5 L364.2,881.2 L363.1,892.9 L362.0,904.6 L360.9,916.2 L359.7,927.9 L358.4,939.6 L357.1,951.3 L355.8,963.0 L354.4,974.6 L352.9,986.3 L351.4,998.0"/><path d="M397.4,661.0 L397.4,671.0 L397.3,681.6 L397.1,692.1 L396.7,702.7 L396.3,713.3 L395.7,723.9 L395.1,734.4 L394.4,745.0 L393.6,755.6 L392.7,766.1 L391.8,776.7 L390.8,787.3 L389.7,797.9 L388.5,808.4 L387.3,819.0 L386.0,829.6 L384.6,840.1 L383.2,850.7 L381.7,861.3 L380.2,871.9 L378.5,882.4 L376.8,893.0 L375.1,903.6 L373.3,914.1 L371.4,924.7 L369.5,935.3 L367.5,945.9 L365.5,956.4 L363.4,967.0"/><path d="M425.4,661.0 L425.4,671.0 L425.4,678.2 L425.4,685.4 L425.4,692.5 L425.3,699.7 L425.3,706.9 L425.2,714.1 L425.0,721.2 L424.9,728.4 L424.6,735.6 L424.4,742.8 L424.1,750.0 L423.7,757.1 L423.3,764.3 L422.8,771.5 L422.3,778.7 L421.6,785.9 L420.9,793.0 L420.2,800.2 L419.3,807.4 L418.4,814.6 L417.4,821.8 L416.2,828.9 L415.0,836.1 L413.7,843.3 L412.3,850.5 L410.8,857.6 L409.1,864.8 L407.4,872.0"/><path d="M460.7,661.0 L460.7,671.0 L460.7,678.2 L460.7,685.4 L460.7,692.5 L460.8,699.7 L460.8,706.9 L460.9,714.1 L461.1,721.2 L461.2,728.4 L461.4,735.6 L461.7,742.8 L462.0,750.0 L462.3,757.1 L462.7,764.3 L463.2,771.5 L463.7,778.7 L464.4,785.9 L465.0,793.0 L465.8,800.2 L466.6,807.4 L467.5,814.6 L468.5,821.8 L469.6,828.9 L470.8,836.1 L472.1,843.3 L473.4,850.5 L474.9,857.6 L476.5,864.8 L478.2,872.0"/><path d="M487.2,661.0 L487.2,671.0 L487.3,681.6 L487.6,692.1 L488.0,702.7 L488.5,713.3 L489.1,723.9 L489.9,734.4 L490.7,745.0 L491.6,755.6 L492.6,766.1 L493.7,776.7 L494.9,787.3 L496.2,797.9 L497.5,808.4 L498.9,819.0 L500.5,829.6 L502.0,840.1 L503.7,850.7 L505.4,861.3 L507.2,871.9 L509.1,882.4 L511.1,893.0 L513.1,903.6 L515.2,914.1 L517.4,924.7 L519.6,935.3 L521.9,945.9 L524.3,956.4 L526.7,967.0"/><path d="M510.7,661.0 L510.7,671.0 L510.7,682.7 L510.9,694.4 L511.1,706.0 L511.4,717.7 L511.8,729.4 L512.2,741.1 L512.7,752.8 L513.3,764.4 L513.9,776.1 L514.7,787.8 L515.4,799.5 L516.3,811.1 L517.2,822.8 L518.2,834.5 L519.3,846.2 L520.4,857.9 L521.5,869.5 L522.8,881.2 L524.1,892.9 L525.5,904.6 L526.9,916.2 L528.4,927.9 L530.0,939.6 L531.6,951.3 L533.3,963.0 L535.0,974.6 L536.8,986.3 L538.7,998.0"/><path d="M531.7,661.0 L531.7,671.0 L531.7,682.7 L531.8,694.4 L531.9,706.0 L532.0,717.7 L532.2,729.4 L532.4,741.1 L532.6,752.8 L532.9,764.4 L533.2,776.1 L533.5,787.8 L533.9,799.5 L534.3,811.1 L534.7,822.8 L535.2,834.5 L535.7,846.2 L536.2,857.9 L536.7,869.5 L537.3,881.2 L537.9,892.9 L538.6,904.6 L539.2,916.2 L539.9,927.9 L540.6,939.6 L541.4,951.3 L542.2,963.0 L543.0,974.6 L543.8,986.3 L544.7,998.0"/><path d="M549.9,661.0 L549.9,671.0 L549.9,682.7 L549.9,694.4 L549.9,706.0 L549.9,717.7 L549.9,729.4 L549.9,741.1 L550.0,752.8 L550.0,764.4 L550.0,776.1 L550.0,787.8 L550.0,799.5 L550.1,811.1 L550.1,822.8 L550.1,834.5 L550.1,846.2 L550.2,857.9 L550.2,869.5 L550.2,881.2 L550.3,892.9 L550.3,904.6 L550.4,916.2 L550.4,927.9 L550.5,939.6 L550.5,951.3 L550.5,963.0 L550.6,974.6 L550.6,986.3 L550.7,998.0"/><path d="M556.7,661.0 L556.7,998.0"/><path d="M574.0,661.0 L574.0,671.0 L574.0,682.7 L573.9,694.4 L573.8,706.0 L573.7,717.7 L573.6,729.4 L573.4,741.1 L573.2,752.8 L573.0,764.4 L572.7,776.1 L572.4,787.8 L572.1,799.5 L571.7,811.1 L571.4,822.8 L571.0,834.5 L570.5,846.2 L570.1,857.9 L569.6,869.5 L569.1,881.2 L568.6,892.9 L568.0,904.6 L567.5,916.2 L566.9,927.9 L566.2,939.6 L565.6,951.3 L564.9,963.0 L564.2,974.6 L563.5,986.3 L562.7,998.0"/><path d="M591.2,661.0 L591.2,671.0 L591.2,682.7 L591.1,694.4 L590.9,706.0 L590.6,717.7 L590.3,729.4 L590.0,741.1 L589.6,752.8 L589.1,764.4 L588.6,776.1 L588.0,787.8 L587.4,799.5 L586.7,811.1 L586.0,822.8 L585.2,834.5 L584.3,846.2 L583.4,857.9 L582.5,869.5 L581.5,881.2 L580.4,892.9 L579.3,904.6 L578.2,916.2 L577.0,927.9 L575.7,939.6 L574.4,951.3 L573.1,963.0 L571.7,974.6 L570.2,986.3 L568.7,998.0"/><path d="M614.7,661.0 L614.7,671.0 L614.6,681.6 L614.4,692.1 L614.0,702.7 L613.6,713.3 L613.0,723.9 L612.4,734.4 L611.7,745.0 L610.9,755.6 L610.0,766.1 L609.1,776.7 L608.1,787.3 L607.0,797.9 L605.8,808.4 L604.6,819.0 L603.3,829.6 L601.9,840.1 L600.5,850.7 L599.0,861.3 L597.5,871.9 L595.8,882.4 L594.1,893.0 L592.4,903.6 L590.6,914.1 L588.7,924.7 L586.8,935.3 L584.8,945.9 L582.8,956.4 L580.7,967.0"/><path d="M642.7,661.0 L642.7,671.0 L642.7,678.2 L642.7,685.4 L642.7,692.5 L642.6,699.7 L642.6,706.9 L642.5,714.1 L642.3,721.2 L642.2,728.4 L641.9,735.6 L641.7,742.8 L641.4,750.0 L641.0,757.1 L640.6,764.3 L640.1,771.5 L639.6,778.7 L638.9,785.9 L638.2,793.0 L637.5,800.2 L636.6,807.4 L635.7,814.6 L634.7,821.8 L633.5,828.9 L632.3,836.1 L631.0,843.3 L629.6,850.5 L628.1,857.6 L626.4,864.8 L624.7,872.0"/><path d="M677.8,661.0 L677.8,671.0 L677.8,678.2 L677.8,685.4 L677.8,692.5 L677.9,699.7 L677.9,706.9 L678.0,714.1 L678.2,721.2 L678.3,728.4 L678.5,735.6 L678.8,742.8 L679.1,750.0 L679.4,757.1 L679.8,764.3 L680.3,771.5 L680.8,778.7 L681.5,785.9 L682.1,793.0 L682.9,800.2 L683.7,807.4 L684.6,814.6 L685.6,821.8 L686.7,828.9 L687.9,836.1 L689.2,843.3 L690.5,850.5 L692.0,857.6 L693.6,864.8 L695.3,872.0"/><path d="M704.3,661.0 L704.3,671.0 L704.4,681.6 L704.7,692.1 L705.1,702.7 L705.6,713.3 L706.2,723.9 L707.0,734.4 L707.8,745.0 L708.7,755.6 L709.7,766.1 L710.8,776.7 L712.0,787.3 L713.3,797.9 L714.6,808.4 L716.0,819.0 L717.6,829.6 L719.1,840.1 L720.8,850.7 L722.5,861.3 L724.3,871.9 L726.2,882.4 L728.2,893.0 L730.2,903.6 L732.3,914.1 L734.5,924.7 L736.7,935.3 L739.0,945.9 L741.4,956.4 L743.8,967.0"/><path d="M727.8,661.0 L727.8,671.0 L727.8,682.7 L728.0,694.4 L728.2,706.0 L728.5,717.7 L728.9,729.4 L729.3,741.1 L729.8,752.8 L730.4,764.4 L731.0,776.1 L731.8,787.8 L732.5,799.5 L733.4,811.1 L734.3,822.8 L735.3,834.5 L736.4,846.2 L737.5,857.9 L738.6,869.5 L739.9,881.2 L741.2,892.9 L742.6,904.6 L744.0,916.2 L745.5,927.9 L747.1,939.6 L748.7,951.3 L750.4,963.0 L752.1,974.6 L753.9,986.3 L755.8,998.0"/><path d="M748.8,661.0 L748.8,671.0 L748.8,682.7 L748.9,694.4 L749.0,706.0 L749.1,717.7 L749.3,729.4 L749.5,741.1 L749.7,752.8 L750.0,764.4 L750.3,776.1 L750.6,787.8 L751.0,799.5 L751.4,811.1 L751.8,822.8 L752.3,834.5 L752.8,846.2 L753.3,857.9 L753.8,869.5 L754.4,881.2 L755.0,892.9 L755.7,904.6 L756.3,916.2 L757.0,927.9 L757.7,939.6 L758.5,951.3 L759.3,963.0 L760.1,974.6 L760.9,986.3 L761.8,998.0"/><path d="M767.0,661.0 L767.0,671.0 L767.0,682.7 L767.0,694.4 L767.0,706.0 L767.0,717.7 L767.0,729.4 L767.0,741.1 L767.1,752.8 L767.1,764.4 L767.1,776.1 L767.1,787.8 L767.1,799.5 L767.2,811.1 L767.2,822.8 L767.2,834.5 L767.2,846.2 L767.3,857.9 L767.3,869.5 L767.3,881.2 L767.4,892.9 L767.4,904.6 L767.5,916.2 L767.5,927.9 L767.6,939.6 L767.6,951.3 L767.6,963.0 L767.7,974.6 L767.7,986.3 L767.8,998.0"/><path d="M773.8,661.0 L773.8,998.0"/><path d="M791.1,661.0 L791.1,671.0 L791.1,682.7 L791.0,694.4 L790.9,706.0 L790.8,717.7 L790.7,729.4 L790.5,741.1 L790.3,752.8 L790.1,764.4 L789.8,776.1 L789.5,787.8 L789.2,799.5 L788.8,811.1 L788.5,822.8 L788.1,834.5 L787.6,846.2 L787.2,857.9 L786.7,869.5 L786.2,881.2 L785.7,892.9 L785.1,904.6 L784.6,916.2 L784.0,927.9 L783.3,939.6 L782.7,951.3 L782.0,963.0 L781.3,974.6 L780.6,986.3 L779.8,998.0"/><path d="M808.3,661.0 L808.3,671.0 L808.3,682.7 L808.2,694.4 L808.0,706.0 L807.7,717.7 L807.4,729.4 L807.1,741.1 L806.7,752.8 L806.2,764.4 L805.7,776.1 L805.1,787.8 L804.5,799.5 L803.8,811.1 L803.1,822.8 L802.3,834.5 L801.4,846.2 L800.5,857.9 L799.6,869.5 L798.6,881.2 L797.5,892.9 L796.4,904.6 L795.3,916.2 L794.1,927.9 L792.8,939.6 L791.5,951.3 L790.2,963.0 L788.8,974.6 L787.3,986.3 L785.8,998.0"/><path d="M831.8,661.0 L831.8,671.0 L831.7,681.6 L831.5,692.1 L831.1,702.7 L830.7,713.3 L830.1,723.9 L829.5,734.4 L828.8,745.0 L828.0,755.6 L827.1,766.1 L826.2,776.7 L825.2,787.3 L824.1,797.9 L822.9,808.4 L821.7,819.0 L820.4,829.6 L819.0,840.1 L817.6,850.7 L816.1,861.3 L814.6,871.9 L812.9,882.4 L811.2,893.0 L809.5,903.6 L807.7,914.1 L805.8,924.7 L803.9,935.3 L801.9,945.9 L799.9,956.4 L797.8,967.0"/><path d="M859.8,661.0 L859.8,671.0 L859.8,678.2 L859.8,685.4 L859.8,692.5 L859.7,699.7 L859.7,706.9 L859.6,714.1 L859.4,721.2 L859.3,728.4 L859.0,735.6 L858.8,742.8 L858.5,750.0 L858.1,757.1 L857.7,764.3 L857.2,771.5 L856.7,778.7 L856.0,785.9 L855.3,793.0 L854.6,800.2 L853.7,807.4 L852.8,814.6 L851.8,821.8 L850.6,828.9 L849.4,836.1 L848.1,843.3 L846.7,850.5 L845.2,857.6 L843.5,864.8 L841.8,872.0"/><path d="M894.8,661.0 L894.8,671.0 L894.8,678.2 L894.8,685.4 L894.8,692.5 L894.9,699.7 L894.9,706.9 L895.0,714.1 L895.2,721.2 L895.3,728.4 L895.5,735.6 L895.8,742.8 L896.1,750.0 L896.4,757.1 L896.8,764.3 L897.3,771.5 L897.8,778.7 L898.5,785.9 L899.1,793.0 L899.9,800.2 L900.7,807.4 L901.6,814.6 L902.6,821.8 L903.7,828.9 L904.9,836.1 L906.2,843.3 L907.5,850.5 L909.0,857.6 L910.6,864.8 L912.3,872.0"/><path d="M921.3,661.0 L921.3,671.0 L921.4,681.6 L921.7,692.1 L922.1,702.7 L922.6,713.3 L923.2,723.9 L924.0,734.4 L924.8,745.0 L925.7,755.6 L926.7,766.1 L927.8,776.7 L929.0,787.3 L930.3,797.9 L931.6,808.4 L933.0,819.0 L934.6,829.6 L936.1,840.1 L937.8,850.7 L939.5,861.3 L941.3,871.9 L943.2,882.4 L945.2,893.0 L947.2,903.6 L949.3,914.1 L951.5,924.7 L953.7,935.3 L956.0,945.9 L958.4,956.4 L960.8,967.0"/><path d="M944.8,661.0 L944.8,671.0 L944.8,682.7 L945.0,694.4 L945.2,706.0 L945.5,717.7 L945.9,729.4 L946.3,741.1 L946.8,752.8 L947.4,764.4 L948.0,776.1 L948.8,787.8 L949.5,799.5 L950.4,811.1 L951.3,822.8 L952.3,834.5 L953.4,846.2 L954.5,857.9 L955.6,869.5 L956.9,881.2 L958.2,892.9 L959.6,904.6 L961.0,916.2 L962.5,927.9 L964.1,939.6 L965.7,951.3 L967.4,963.0 L969.1,974.6 L970.9,986.3 L972.8,998.0"/><path d="M965.8,661.0 L965.8,671.0 L965.8,682.7 L965.9,694.4 L966.0,706.0 L966.1,717.7 L966.3,729.4 L966.5,741.1 L966.7,752.8 L967.0,764.4 L967.3,776.1 L967.6,787.8 L968.0,799.5 L968.4,811.1 L968.8,822.8 L969.3,834.5 L969.8,846.2 L970.3,857.9 L970.8,869.5 L971.4,881.2 L972.0,892.9 L972.7,904.6 L973.3,916.2 L974.0,927.9 L974.7,939.6 L975.5,951.3 L976.3,963.0 L977.1,974.6 L977.9,986.3 L978.8,998.0"/><path d="M984.0,661.0 L984.0,671.0 L984.0,682.7 L984.0,694.4 L984.0,706.0 L984.0,717.7 L984.0,729.4 L984.0,741.1 L984.1,752.8 L984.1,764.4 L984.1,776.1 L984.1,787.8 L984.1,799.5 L984.2,811.1 L984.2,822.8 L984.2,834.5 L984.2,846.2 L984.3,857.9 L984.3,869.5 L984.3,881.2 L984.4,892.9 L984.4,904.6 L984.5,916.2 L984.5,927.9 L984.6,939.6 L984.6,951.3 L984.6,963.0 L984.7,974.6 L984.7,986.3 L984.8,998.0"/><path d="M990.8,661.0 L990.8,998.0"/><path d="M1008.1,661.0 L1008.1,671.0 L1008.1,682.7 L1008.0,694.4 L1007.9,706.0 L1007.8,717.7 L1007.7,729.4 L1007.5,741.1 L1007.3,752.8 L1007.1,764.4 L1006.8,776.1 L1006.5,787.8 L1006.2,799.5 L1005.8,811.1 L1005.5,822.8 L1005.1,834.5 L1004.6,846.2 L1004.2,857.9 L1003.7,869.5 L1003.2,881.2 L1002.7,892.9 L1002.1,904.6 L1001.6,916.2 L1001.0,927.9 L1000.3,939.6 L999.7,951.3 L999.0,963.0 L998.3,974.6 L997.6,986.3 L996.8,998.0"/><path d="M1025.3,661.0 L1025.3,671.0 L1025.3,682.7 L1025.2,694.4 L1025.0,706.0 L1024.7,717.7 L1024.4,729.4 L1024.1,741.1 L1023.7,752.8 L1023.2,764.4 L1022.7,776.1 L1022.1,787.8 L1021.5,799.5 L1020.8,811.1 L1020.1,822.8 L1019.3,834.5 L1018.4,846.2 L1017.5,857.9 L1016.6,869.5 L1015.6,881.2 L1014.5,892.9 L1013.4,904.6 L1012.3,916.2 L1011.1,927.9 L1009.8,939.6 L1008.5,951.3 L1007.2,963.0 L1005.8,974.6 L1004.3,986.3 L1002.8,998.0"/><path d="M1048.8,661.0 L1048.8,671.0 L1048.7,681.6 L1048.5,692.1 L1048.1,702.7 L1047.7,713.3 L1047.1,723.9 L1046.5,734.4 L1045.8,745.0 L1045.0,755.6 L1044.1,766.1 L1043.2,776.7 L1042.2,787.3 L1041.1,797.9 L1039.9,808.4 L1038.7,819.0 L1037.4,829.6 L1036.0,840.1 L1034.6,850.7 L1033.1,861.3 L1031.6,871.9 L1029.9,882.4 L1028.2,893.0 L1026.5,903.6 L1024.7,914.1 L1022.8,924.7 L1020.9,935.3 L1018.9,945.9 L1016.9,956.4 L1014.8,967.0"/><path d="M1076.8,661.0 L1076.8,671.0 L1076.8,678.2 L1076.8,685.4 L1076.8,692.5 L1076.7,699.7 L1076.7,706.9 L1076.6,714.1 L1076.4,721.2 L1076.3,728.4 L1076.0,735.6 L1075.8,742.8 L1075.5,750.0 L1075.1,757.1 L1074.7,764.3 L1074.2,771.5 L1073.7,778.7 L1073.0,785.9 L1072.3,793.0 L1071.6,800.2 L1070.7,807.4 L1069.8,814.6 L1068.8,821.8 L1067.6,828.9 L1066.4,836.1 L1065.1,843.3 L1063.7,850.5 L1062.2,857.6 L1060.5,864.8 L1058.8,872.0"/><path d="M1104.0,661.0 L1104.0,671.0 L1104.0,678.1 L1104.0,685.2 L1104.0,692.3 L1104.1,699.4 L1104.1,706.5 L1104.2,713.6 L1104.3,720.8 L1104.5,727.9 L1104.7,735.0 L1104.9,742.1 L1105.2,749.2 L1105.5,756.3 L1105.9,763.4 L1106.3,770.5 L1106.8,777.6 L1107.3,784.7 L1108.0,791.8 L1108.6,798.9 L1109.4,806.0 L1110.2,813.1 L1111.1,820.2 L1112.1,827.4 L1113.2,834.5 L1114.4,841.6 L1115.6,848.7 L1117.0,855.8 L1118.5,862.9 L1120.0,870.0"/></g>
<g fill="none" stroke="url(#lgEdgeB)" stroke-width="6.5"><path d="M25.3,661.0 L25.3,671.0 L25.3,678.2 L25.3,685.4 L25.4,692.5 L25.5,699.7 L25.6,706.9 L25.8,714.1 L26.0,721.2 L26.4,728.4 L26.8,735.6 L27.3,742.8 L27.9,750.0 L28.6,757.1 L29.4,764.3 L30.4,771.5 L31.4,778.7 L32.6,785.9 L34.0,793.0 L35.5,800.2 L37.2,807.4 L39.0,814.6 L41.0,821.8 L43.2,828.9 L45.6,836.1 L48.2,843.3 L50.9,850.5 L53.9,857.6 L57.1,864.8 L60.5,872.0"/><path d="M51.8,661.0 L51.8,671.0 L51.9,681.6 L52.2,692.1 L52.6,702.7 L53.1,713.3 L53.7,723.9 L54.5,734.4 L55.3,745.0 L56.2,755.6 L57.2,766.1 L58.3,776.7 L59.5,787.3 L60.8,797.9 L62.1,808.4 L63.5,819.0 L65.1,829.6 L66.6,840.1 L68.3,850.7 L70.0,861.3 L71.8,871.9 L73.7,882.4 L75.7,893.0 L77.7,903.6 L79.8,914.1 L82.0,924.7 L84.2,935.3 L86.5,945.9 L88.9,956.4 L91.3,967.0"/><path d="M75.3,661.0 L75.3,671.0 L75.3,682.7 L75.5,694.4 L75.7,706.0 L76.0,717.7 L76.4,729.4 L76.8,741.1 L77.3,752.8 L77.9,764.4 L78.5,776.1 L79.3,787.8 L80.0,799.5 L80.9,811.1 L81.8,822.8 L82.8,834.5 L83.9,846.2 L85.0,857.9 L86.1,869.5 L87.4,881.2 L88.7,892.9 L90.1,904.6 L91.5,916.2 L93.0,927.9 L94.6,939.6 L96.2,951.3 L97.9,963.0 L99.6,974.6 L101.4,986.3 L103.3,998.0"/><path d="M96.3,661.0 L96.3,671.0 L96.3,682.7 L96.4,694.4 L96.5,706.0 L96.6,717.7 L96.8,729.4 L97.0,741.1 L97.2,752.8 L97.5,764.4 L97.8,776.1 L98.1,787.8 L98.5,799.5 L98.9,811.1 L99.3,822.8 L99.8,834.5 L100.3,846.2 L100.8,857.9 L101.3,869.5 L101.9,881.2 L102.5,892.9 L103.2,904.6 L103.8,916.2 L104.5,927.9 L105.2,939.6 L106.0,951.3 L106.8,963.0 L107.6,974.6 L108.4,986.3 L109.3,998.0"/><path d="M114.5,661.0 L114.5,671.0 L114.5,682.7 L114.5,694.4 L114.5,706.0 L114.5,717.7 L114.5,729.4 L114.5,741.1 L114.6,752.8 L114.6,764.4 L114.6,776.1 L114.6,787.8 L114.6,799.5 L114.7,811.1 L114.7,822.8 L114.7,834.5 L114.7,846.2 L114.8,857.9 L114.8,869.5 L114.8,881.2 L114.9,892.9 L114.9,904.6 L115.0,916.2 L115.0,927.9 L115.1,939.6 L115.1,951.3 L115.1,963.0 L115.2,974.6 L115.2,986.3 L115.3,998.0"/><path d="M121.3,661.0 L121.3,998.0"/><path d="M138.6,661.0 L138.6,671.0 L138.6,682.7 L138.5,694.4 L138.4,706.0 L138.3,717.7 L138.2,729.4 L138.0,741.1 L137.8,752.8 L137.6,764.4 L137.3,776.1 L137.0,787.8 L136.7,799.5 L136.3,811.1 L136.0,822.8 L135.6,834.5 L135.1,846.2 L134.7,857.9 L134.2,869.5 L133.7,881.2 L133.2,892.9 L132.6,904.6 L132.1,916.2 L131.5,927.9 L130.8,939.6 L130.2,951.3 L129.5,963.0 L128.8,974.6 L128.1,986.3 L127.3,998.0"/><path d="M155.8,661.0 L155.8,671.0 L155.8,682.7 L155.7,694.4 L155.5,706.0 L155.2,717.7 L154.9,729.4 L154.6,741.1 L154.2,752.8 L153.7,764.4 L153.2,776.1 L152.6,787.8 L152.0,799.5 L151.3,811.1 L150.6,822.8 L149.8,834.5 L148.9,846.2 L148.0,857.9 L147.1,869.5 L146.1,881.2 L145.0,892.9 L143.9,904.6 L142.8,916.2 L141.6,927.9 L140.3,939.6 L139.0,951.3 L137.7,963.0 L136.3,974.6 L134.8,986.3 L133.3,998.0"/><path d="M179.3,661.0 L179.3,671.0 L179.2,681.6 L179.0,692.1 L178.6,702.7 L178.2,713.3 L177.6,723.9 L177.0,734.4 L176.3,745.0 L175.5,755.6 L174.6,766.1 L173.7,776.7 L172.7,787.3 L171.6,797.9 L170.4,808.4 L169.2,819.0 L167.9,829.6 L166.5,840.1 L165.1,850.7 L163.6,861.3 L162.1,871.9 L160.4,882.4 L158.7,893.0 L157.0,903.6 L155.2,914.1 L153.3,924.7 L151.4,935.3 L149.4,945.9 L147.4,956.4 L145.3,967.0"/><path d="M207.3,661.0 L207.3,671.0 L207.3,678.2 L207.3,685.4 L207.3,692.5 L207.2,699.7 L207.2,706.9 L207.1,714.1 L206.9,721.2 L206.8,728.4 L206.5,735.6 L206.3,742.8 L206.0,750.0 L205.6,757.1 L205.2,764.3 L204.7,771.5 L204.2,778.7 L203.5,785.9 L202.8,793.0 L202.1,800.2 L201.2,807.4 L200.3,814.6 L199.3,821.8 L198.1,828.9 L196.9,836.1 L195.6,843.3 L194.2,850.5 L192.7,857.6 L191.0,864.8 L189.3,872.0"/><path d="M243.4,661.0 L243.4,671.0 L243.4,678.2 L243.4,685.4 L243.4,692.5 L243.5,699.7 L243.5,706.9 L243.6,714.1 L243.8,721.2 L243.9,728.4 L244.1,735.6 L244.4,742.8 L244.7,750.0 L245.0,757.1 L245.4,764.3 L245.9,771.5 L246.4,778.7 L247.1,785.9 L247.7,793.0 L248.5,800.2 L249.3,807.4 L250.2,814.6 L251.2,821.8 L252.3,828.9 L253.5,836.1 L254.8,843.3 L256.1,850.5 L257.6,857.6 L259.2,864.8 L260.9,872.0"/><path d="M269.9,661.0 L269.9,671.0 L270.0,681.6 L270.3,692.1 L270.7,702.7 L271.2,713.3 L271.8,723.9 L272.6,734.4 L273.4,745.0 L274.3,755.6 L275.3,766.1 L276.4,776.7 L277.6,787.3 L278.9,797.9 L280.2,808.4 L281.6,819.0 L283.2,829.6 L284.7,840.1 L286.4,850.7 L288.1,861.3 L289.9,871.9 L291.8,882.4 L293.8,893.0 L295.8,903.6 L297.9,914.1 L300.1,924.7 L302.3,935.3 L304.6,945.9 L307.0,956.4 L309.4,967.0"/><path d="M293.4,661.0 L293.4,671.0 L293.4,682.7 L293.6,694.4 L293.8,706.0 L294.1,717.7 L294.5,729.4 L294.9,741.1 L295.4,752.8 L296.0,764.4 L296.6,776.1 L297.4,787.8 L298.1,799.5 L299.0,811.1 L299.9,822.8 L300.9,834.5 L302.0,846.2 L303.1,857.9 L304.2,869.5 L305.5,881.2 L306.8,892.9 L308.2,904.6 L309.6,916.2 L311.1,927.9 L312.7,939.6 L314.3,951.3 L316.0,963.0 L317.7,974.6 L319.5,986.3 L321.4,998.0"/><path d="M314.4,661.0 L314.4,671.0 L314.4,682.7 L314.5,694.4 L314.6,706.0 L314.7,717.7 L314.9,729.4 L315.1,741.1 L315.3,752.8 L315.6,764.4 L315.9,776.1 L316.2,787.8 L316.6,799.5 L317.0,811.1 L317.4,822.8 L317.9,834.5 L318.4,846.2 L318.9,857.9 L319.4,869.5 L320.0,881.2 L320.6,892.9 L321.3,904.6 L321.9,916.2 L322.6,927.9 L323.3,939.6 L324.1,951.3 L324.9,963.0 L325.7,974.6 L326.5,986.3 L327.4,998.0"/><path d="M332.6,661.0 L332.6,671.0 L332.6,682.7 L332.6,694.4 L332.6,706.0 L332.6,717.7 L332.6,729.4 L332.6,741.1 L332.7,752.8 L332.7,764.4 L332.7,776.1 L332.7,787.8 L332.7,799.5 L332.8,811.1 L332.8,822.8 L332.8,834.5 L332.8,846.2 L332.9,857.9 L332.9,869.5 L332.9,881.2 L333.0,892.9 L333.0,904.6 L333.1,916.2 L333.1,927.9 L333.2,939.6 L333.2,951.3 L333.2,963.0 L333.3,974.6 L333.3,986.3 L333.4,998.0"/><path d="M339.4,661.0 L339.4,998.0"/><path d="M356.7,661.0 L356.7,671.0 L356.7,682.7 L356.6,694.4 L356.5,706.0 L356.4,717.7 L356.3,729.4 L356.1,741.1 L355.9,752.8 L355.7,764.4 L355.4,776.1 L355.1,787.8 L354.8,799.5 L354.4,811.1 L354.1,822.8 L353.7,834.5 L353.2,846.2 L352.8,857.9 L352.3,869.5 L351.8,881.2 L351.3,892.9 L350.7,904.6 L350.2,916.2 L349.6,927.9 L348.9,939.6 L348.3,951.3 L347.6,963.0 L346.9,974.6 L346.2,986.3 L345.4,998.0"/><path d="M373.9,661.0 L373.9,671.0 L373.9,682.7 L373.8,694.4 L373.6,706.0 L373.3,717.7 L373.0,729.4 L372.7,741.1 L372.3,752.8 L371.8,764.4 L371.3,776.1 L370.7,787.8 L370.1,799.5 L369.4,811.1 L368.7,822.8 L367.9,834.5 L367.0,846.2 L366.1,857.9 L365.2,869.5 L364.2,881.2 L363.1,892.9 L362.0,904.6 L360.9,916.2 L359.7,927.9 L358.4,939.6 L357.1,951.3 L355.8,963.0 L354.4,974.6 L352.9,986.3 L351.4,998.0"/><path d="M397.4,661.0 L397.4,671.0 L397.3,681.6 L397.1,692.1 L396.7,702.7 L396.3,713.3 L395.7,723.9 L395.1,734.4 L394.4,745.0 L393.6,755.6 L392.7,766.1 L391.8,776.7 L390.8,787.3 L389.7,797.9 L388.5,808.4 L387.3,819.0 L386.0,829.6 L384.6,840.1 L383.2,850.7 L381.7,861.3 L380.2,871.9 L378.5,882.4 L376.8,893.0 L375.1,903.6 L373.3,914.1 L371.4,924.7 L369.5,935.3 L367.5,945.9 L365.5,956.4 L363.4,967.0"/><path d="M425.4,661.0 L425.4,671.0 L425.4,678.2 L425.4,685.4 L425.4,692.5 L425.3,699.7 L425.3,706.9 L425.2,714.1 L425.0,721.2 L424.9,728.4 L424.6,735.6 L424.4,742.8 L424.1,750.0 L423.7,757.1 L423.3,764.3 L422.8,771.5 L422.3,778.7 L421.6,785.9 L420.9,793.0 L420.2,800.2 L419.3,807.4 L418.4,814.6 L417.4,821.8 L416.2,828.9 L415.0,836.1 L413.7,843.3 L412.3,850.5 L410.8,857.6 L409.1,864.8 L407.4,872.0"/><path d="M460.7,661.0 L460.7,671.0 L460.7,678.2 L460.7,685.4 L460.7,692.5 L460.8,699.7 L460.8,706.9 L460.9,714.1 L461.1,721.2 L461.2,728.4 L461.4,735.6 L461.7,742.8 L462.0,750.0 L462.3,757.1 L462.7,764.3 L463.2,771.5 L463.7,778.7 L464.4,785.9 L465.0,793.0 L465.8,800.2 L466.6,807.4 L467.5,814.6 L468.5,821.8 L469.6,828.9 L470.8,836.1 L472.1,843.3 L473.4,850.5 L474.9,857.6 L476.5,864.8 L478.2,872.0"/><path d="M487.2,661.0 L487.2,671.0 L487.3,681.6 L487.6,692.1 L488.0,702.7 L488.5,713.3 L489.1,723.9 L489.9,734.4 L490.7,745.0 L491.6,755.6 L492.6,766.1 L493.7,776.7 L494.9,787.3 L496.2,797.9 L497.5,808.4 L498.9,819.0 L500.5,829.6 L502.0,840.1 L503.7,850.7 L505.4,861.3 L507.2,871.9 L509.1,882.4 L511.1,893.0 L513.1,903.6 L515.2,914.1 L517.4,924.7 L519.6,935.3 L521.9,945.9 L524.3,956.4 L526.7,967.0"/><path d="M510.7,661.0 L510.7,671.0 L510.7,682.7 L510.9,694.4 L511.1,706.0 L511.4,717.7 L511.8,729.4 L512.2,741.1 L512.7,752.8 L513.3,764.4 L513.9,776.1 L514.7,787.8 L515.4,799.5 L516.3,811.1 L517.2,822.8 L518.2,834.5 L519.3,846.2 L520.4,857.9 L521.5,869.5 L522.8,881.2 L524.1,892.9 L525.5,904.6 L526.9,916.2 L528.4,927.9 L530.0,939.6 L531.6,951.3 L533.3,963.0 L535.0,974.6 L536.8,986.3 L538.7,998.0"/><path d="M531.7,661.0 L531.7,671.0 L531.7,682.7 L531.8,694.4 L531.9,706.0 L532.0,717.7 L532.2,729.4 L532.4,741.1 L532.6,752.8 L532.9,764.4 L533.2,776.1 L533.5,787.8 L533.9,799.5 L534.3,811.1 L534.7,822.8 L535.2,834.5 L535.7,846.2 L536.2,857.9 L536.7,869.5 L537.3,881.2 L537.9,892.9 L538.6,904.6 L539.2,916.2 L539.9,927.9 L540.6,939.6 L541.4,951.3 L542.2,963.0 L543.0,974.6 L543.8,986.3 L544.7,998.0"/><path d="M549.9,661.0 L549.9,671.0 L549.9,682.7 L549.9,694.4 L549.9,706.0 L549.9,717.7 L549.9,729.4 L549.9,741.1 L550.0,752.8 L550.0,764.4 L550.0,776.1 L550.0,787.8 L550.0,799.5 L550.1,811.1 L550.1,822.8 L550.1,834.5 L550.1,846.2 L550.2,857.9 L550.2,869.5 L550.2,881.2 L550.3,892.9 L550.3,904.6 L550.4,916.2 L550.4,927.9 L550.5,939.6 L550.5,951.3 L550.5,963.0 L550.6,974.6 L550.6,986.3 L550.7,998.0"/><path d="M556.7,661.0 L556.7,998.0"/><path d="M574.0,661.0 L574.0,671.0 L574.0,682.7 L573.9,694.4 L573.8,706.0 L573.7,717.7 L573.6,729.4 L573.4,741.1 L573.2,752.8 L573.0,764.4 L572.7,776.1 L572.4,787.8 L572.1,799.5 L571.7,811.1 L571.4,822.8 L571.0,834.5 L570.5,846.2 L570.1,857.9 L569.6,869.5 L569.1,881.2 L568.6,892.9 L568.0,904.6 L567.5,916.2 L566.9,927.9 L566.2,939.6 L565.6,951.3 L564.9,963.0 L564.2,974.6 L563.5,986.3 L562.7,998.0"/><path d="M591.2,661.0 L591.2,671.0 L591.2,682.7 L591.1,694.4 L590.9,706.0 L590.6,717.7 L590.3,729.4 L590.0,741.1 L589.6,752.8 L589.1,764.4 L588.6,776.1 L588.0,787.8 L587.4,799.5 L586.7,811.1 L586.0,822.8 L585.2,834.5 L584.3,846.2 L583.4,857.9 L582.5,869.5 L581.5,881.2 L580.4,892.9 L579.3,904.6 L578.2,916.2 L577.0,927.9 L575.7,939.6 L574.4,951.3 L573.1,963.0 L571.7,974.6 L570.2,986.3 L568.7,998.0"/><path d="M614.7,661.0 L614.7,671.0 L614.6,681.6 L614.4,692.1 L614.0,702.7 L613.6,713.3 L613.0,723.9 L612.4,734.4 L611.7,745.0 L610.9,755.6 L610.0,766.1 L609.1,776.7 L608.1,787.3 L607.0,797.9 L605.8,808.4 L604.6,819.0 L603.3,829.6 L601.9,840.1 L600.5,850.7 L599.0,861.3 L597.5,871.9 L595.8,882.4 L594.1,893.0 L592.4,903.6 L590.6,914.1 L588.7,924.7 L586.8,935.3 L584.8,945.9 L582.8,956.4 L580.7,967.0"/><path d="M642.7,661.0 L642.7,671.0 L642.7,678.2 L642.7,685.4 L642.7,692.5 L642.6,699.7 L642.6,706.9 L642.5,714.1 L642.3,721.2 L642.2,728.4 L641.9,735.6 L641.7,742.8 L641.4,750.0 L641.0,757.1 L640.6,764.3 L640.1,771.5 L639.6,778.7 L638.9,785.9 L638.2,793.0 L637.5,800.2 L636.6,807.4 L635.7,814.6 L634.7,821.8 L633.5,828.9 L632.3,836.1 L631.0,843.3 L629.6,850.5 L628.1,857.6 L626.4,864.8 L624.7,872.0"/><path d="M677.8,661.0 L677.8,671.0 L677.8,678.2 L677.8,685.4 L677.8,692.5 L677.9,699.7 L677.9,706.9 L678.0,714.1 L678.2,721.2 L678.3,728.4 L678.5,735.6 L678.8,742.8 L679.1,750.0 L679.4,757.1 L679.8,764.3 L680.3,771.5 L680.8,778.7 L681.5,785.9 L682.1,793.0 L682.9,800.2 L683.7,807.4 L684.6,814.6 L685.6,821.8 L686.7,828.9 L687.9,836.1 L689.2,843.3 L690.5,850.5 L692.0,857.6 L693.6,864.8 L695.3,872.0"/><path d="M704.3,661.0 L704.3,671.0 L704.4,681.6 L704.7,692.1 L705.1,702.7 L705.6,713.3 L706.2,723.9 L707.0,734.4 L707.8,745.0 L708.7,755.6 L709.7,766.1 L710.8,776.7 L712.0,787.3 L713.3,797.9 L714.6,808.4 L716.0,819.0 L717.6,829.6 L719.1,840.1 L720.8,850.7 L722.5,861.3 L724.3,871.9 L726.2,882.4 L728.2,893.0 L730.2,903.6 L732.3,914.1 L734.5,924.7 L736.7,935.3 L739.0,945.9 L741.4,956.4 L743.8,967.0"/><path d="M727.8,661.0 L727.8,671.0 L727.8,682.7 L728.0,694.4 L728.2,706.0 L728.5,717.7 L728.9,729.4 L729.3,741.1 L729.8,752.8 L730.4,764.4 L731.0,776.1 L731.8,787.8 L732.5,799.5 L733.4,811.1 L734.3,822.8 L735.3,834.5 L736.4,846.2 L737.5,857.9 L738.6,869.5 L739.9,881.2 L741.2,892.9 L742.6,904.6 L744.0,916.2 L745.5,927.9 L747.1,939.6 L748.7,951.3 L750.4,963.0 L752.1,974.6 L753.9,986.3 L755.8,998.0"/><path d="M748.8,661.0 L748.8,671.0 L748.8,682.7 L748.9,694.4 L749.0,706.0 L749.1,717.7 L749.3,729.4 L749.5,741.1 L749.7,752.8 L750.0,764.4 L750.3,776.1 L750.6,787.8 L751.0,799.5 L751.4,811.1 L751.8,822.8 L752.3,834.5 L752.8,846.2 L753.3,857.9 L753.8,869.5 L754.4,881.2 L755.0,892.9 L755.7,904.6 L756.3,916.2 L757.0,927.9 L757.7,939.6 L758.5,951.3 L759.3,963.0 L760.1,974.6 L760.9,986.3 L761.8,998.0"/><path d="M767.0,661.0 L767.0,671.0 L767.0,682.7 L767.0,694.4 L767.0,706.0 L767.0,717.7 L767.0,729.4 L767.0,741.1 L767.1,752.8 L767.1,764.4 L767.1,776.1 L767.1,787.8 L767.1,799.5 L767.2,811.1 L767.2,822.8 L767.2,834.5 L767.2,846.2 L767.3,857.9 L767.3,869.5 L767.3,881.2 L767.4,892.9 L767.4,904.6 L767.5,916.2 L767.5,927.9 L767.6,939.6 L767.6,951.3 L767.6,963.0 L767.7,974.6 L767.7,986.3 L767.8,998.0"/><path d="M773.8,661.0 L773.8,998.0"/><path d="M791.1,661.0 L791.1,671.0 L791.1,682.7 L791.0,694.4 L790.9,706.0 L790.8,717.7 L790.7,729.4 L790.5,741.1 L790.3,752.8 L790.1,764.4 L789.8,776.1 L789.5,787.8 L789.2,799.5 L788.8,811.1 L788.5,822.8 L788.1,834.5 L787.6,846.2 L787.2,857.9 L786.7,869.5 L786.2,881.2 L785.7,892.9 L785.1,904.6 L784.6,916.2 L784.0,927.9 L783.3,939.6 L782.7,951.3 L782.0,963.0 L781.3,974.6 L780.6,986.3 L779.8,998.0"/><path d="M808.3,661.0 L808.3,671.0 L808.3,682.7 L808.2,694.4 L808.0,706.0 L807.7,717.7 L807.4,729.4 L807.1,741.1 L806.7,752.8 L806.2,764.4 L805.7,776.1 L805.1,787.8 L804.5,799.5 L803.8,811.1 L803.1,822.8 L802.3,834.5 L801.4,846.2 L800.5,857.9 L799.6,869.5 L798.6,881.2 L797.5,892.9 L796.4,904.6 L795.3,916.2 L794.1,927.9 L792.8,939.6 L791.5,951.3 L790.2,963.0 L788.8,974.6 L787.3,986.3 L785.8,998.0"/><path d="M831.8,661.0 L831.8,671.0 L831.7,681.6 L831.5,692.1 L831.1,702.7 L830.7,713.3 L830.1,723.9 L829.5,734.4 L828.8,745.0 L828.0,755.6 L827.1,766.1 L826.2,776.7 L825.2,787.3 L824.1,797.9 L822.9,808.4 L821.7,819.0 L820.4,829.6 L819.0,840.1 L817.6,850.7 L816.1,861.3 L814.6,871.9 L812.9,882.4 L811.2,893.0 L809.5,903.6 L807.7,914.1 L805.8,924.7 L803.9,935.3 L801.9,945.9 L799.9,956.4 L797.8,967.0"/><path d="M859.8,661.0 L859.8,671.0 L859.8,678.2 L859.8,685.4 L859.8,692.5 L859.7,699.7 L859.7,706.9 L859.6,714.1 L859.4,721.2 L859.3,728.4 L859.0,735.6 L858.8,742.8 L858.5,750.0 L858.1,757.1 L857.7,764.3 L857.2,771.5 L856.7,778.7 L856.0,785.9 L855.3,793.0 L854.6,800.2 L853.7,807.4 L852.8,814.6 L851.8,821.8 L850.6,828.9 L849.4,836.1 L848.1,843.3 L846.7,850.5 L845.2,857.6 L843.5,864.8 L841.8,872.0"/><path d="M894.8,661.0 L894.8,671.0 L894.8,678.2 L894.8,685.4 L894.8,692.5 L894.9,699.7 L894.9,706.9 L895.0,714.1 L895.2,721.2 L895.3,728.4 L895.5,735.6 L895.8,742.8 L896.1,750.0 L896.4,757.1 L896.8,764.3 L897.3,771.5 L897.8,778.7 L898.5,785.9 L899.1,793.0 L899.9,800.2 L900.7,807.4 L901.6,814.6 L902.6,821.8 L903.7,828.9 L904.9,836.1 L906.2,843.3 L907.5,850.5 L909.0,857.6 L910.6,864.8 L912.3,872.0"/><path d="M921.3,661.0 L921.3,671.0 L921.4,681.6 L921.7,692.1 L922.1,702.7 L922.6,713.3 L923.2,723.9 L924.0,734.4 L924.8,745.0 L925.7,755.6 L926.7,766.1 L927.8,776.7 L929.0,787.3 L930.3,797.9 L931.6,808.4 L933.0,819.0 L934.6,829.6 L936.1,840.1 L937.8,850.7 L939.5,861.3 L941.3,871.9 L943.2,882.4 L945.2,893.0 L947.2,903.6 L949.3,914.1 L951.5,924.7 L953.7,935.3 L956.0,945.9 L958.4,956.4 L960.8,967.0"/><path d="M944.8,661.0 L944.8,671.0 L944.8,682.7 L945.0,694.4 L945.2,706.0 L945.5,717.7 L945.9,729.4 L946.3,741.1 L946.8,752.8 L947.4,764.4 L948.0,776.1 L948.8,787.8 L949.5,799.5 L950.4,811.1 L951.3,822.8 L952.3,834.5 L953.4,846.2 L954.5,857.9 L955.6,869.5 L956.9,881.2 L958.2,892.9 L959.6,904.6 L961.0,916.2 L962.5,927.9 L964.1,939.6 L965.7,951.3 L967.4,963.0 L969.1,974.6 L970.9,986.3 L972.8,998.0"/><path d="M965.8,661.0 L965.8,671.0 L965.8,682.7 L965.9,694.4 L966.0,706.0 L966.1,717.7 L966.3,729.4 L966.5,741.1 L966.7,752.8 L967.0,764.4 L967.3,776.1 L967.6,787.8 L968.0,799.5 L968.4,811.1 L968.8,822.8 L969.3,834.5 L969.8,846.2 L970.3,857.9 L970.8,869.5 L971.4,881.2 L972.0,892.9 L972.7,904.6 L973.3,916.2 L974.0,927.9 L974.7,939.6 L975.5,951.3 L976.3,963.0 L977.1,974.6 L977.9,986.3 L978.8,998.0"/><path d="M984.0,661.0 L984.0,671.0 L984.0,682.7 L984.0,694.4 L984.0,706.0 L984.0,717.7 L984.0,729.4 L984.0,741.1 L984.1,752.8 L984.1,764.4 L984.1,776.1 L984.1,787.8 L984.1,799.5 L984.2,811.1 L984.2,822.8 L984.2,834.5 L984.2,846.2 L984.3,857.9 L984.3,869.5 L984.3,881.2 L984.4,892.9 L984.4,904.6 L984.5,916.2 L984.5,927.9 L984.6,939.6 L984.6,951.3 L984.6,963.0 L984.7,974.6 L984.7,986.3 L984.8,998.0"/><path d="M990.8,661.0 L990.8,998.0"/><path d="M1008.1,661.0 L1008.1,671.0 L1008.1,682.7 L1008.0,694.4 L1007.9,706.0 L1007.8,717.7 L1007.7,729.4 L1007.5,741.1 L1007.3,752.8 L1007.1,764.4 L1006.8,776.1 L1006.5,787.8 L1006.2,799.5 L1005.8,811.1 L1005.5,822.8 L1005.1,834.5 L1004.6,846.2 L1004.2,857.9 L1003.7,869.5 L1003.2,881.2 L1002.7,892.9 L1002.1,904.6 L1001.6,916.2 L1001.0,927.9 L1000.3,939.6 L999.7,951.3 L999.0,963.0 L998.3,974.6 L997.6,986.3 L996.8,998.0"/><path d="M1025.3,661.0 L1025.3,671.0 L1025.3,682.7 L1025.2,694.4 L1025.0,706.0 L1024.7,717.7 L1024.4,729.4 L1024.1,741.1 L1023.7,752.8 L1023.2,764.4 L1022.7,776.1 L1022.1,787.8 L1021.5,799.5 L1020.8,811.1 L1020.1,822.8 L1019.3,834.5 L1018.4,846.2 L1017.5,857.9 L1016.6,869.5 L1015.6,881.2 L1014.5,892.9 L1013.4,904.6 L1012.3,916.2 L1011.1,927.9 L1009.8,939.6 L1008.5,951.3 L1007.2,963.0 L1005.8,974.6 L1004.3,986.3 L1002.8,998.0"/><path d="M1048.8,661.0 L1048.8,671.0 L1048.7,681.6 L1048.5,692.1 L1048.1,702.7 L1047.7,713.3 L1047.1,723.9 L1046.5,734.4 L1045.8,745.0 L1045.0,755.6 L1044.1,766.1 L1043.2,776.7 L1042.2,787.3 L1041.1,797.9 L1039.9,808.4 L1038.7,819.0 L1037.4,829.6 L1036.0,840.1 L1034.6,850.7 L1033.1,861.3 L1031.6,871.9 L1029.9,882.4 L1028.2,893.0 L1026.5,903.6 L1024.7,914.1 L1022.8,924.7 L1020.9,935.3 L1018.9,945.9 L1016.9,956.4 L1014.8,967.0"/><path d="M1076.8,661.0 L1076.8,671.0 L1076.8,678.2 L1076.8,685.4 L1076.8,692.5 L1076.7,699.7 L1076.7,706.9 L1076.6,714.1 L1076.4,721.2 L1076.3,728.4 L1076.0,735.6 L1075.8,742.8 L1075.5,750.0 L1075.1,757.1 L1074.7,764.3 L1074.2,771.5 L1073.7,778.7 L1073.0,785.9 L1072.3,793.0 L1071.6,800.2 L1070.7,807.4 L1069.8,814.6 L1068.8,821.8 L1067.6,828.9 L1066.4,836.1 L1065.1,843.3 L1063.7,850.5 L1062.2,857.6 L1060.5,864.8 L1058.8,872.0"/><path d="M1104.0,661.0 L1104.0,671.0 L1104.0,678.1 L1104.0,685.2 L1104.0,692.3 L1104.1,699.4 L1104.1,706.5 L1104.2,713.6 L1104.3,720.8 L1104.5,727.9 L1104.7,735.0 L1104.9,742.1 L1105.2,749.2 L1105.5,756.3 L1105.9,763.4 L1106.3,770.5 L1106.8,777.6 L1107.3,784.7 L1108.0,791.8 L1108.6,798.9 L1109.4,806.0 L1110.2,813.1 L1111.1,820.2 L1112.1,827.4 L1113.2,834.5 L1114.4,841.6 L1115.6,848.7 L1117.0,855.8 L1118.5,862.9 L1120.0,870.0"/></g>
<g fill="none" stroke="url(#lgBot)" stroke-width="4.2"><path d="M25.3,661.0 L25.3,671.0 L25.3,678.2 L25.3,685.4 L25.4,692.5 L25.5,699.7 L25.6,706.9 L25.8,714.1 L26.0,721.2 L26.4,728.4 L26.8,735.6 L27.3,742.8 L27.9,750.0 L28.6,757.1 L29.4,764.3 L30.4,771.5 L31.4,778.7 L32.6,785.9 L34.0,793.0 L35.5,800.2 L37.2,807.4 L39.0,814.6 L41.0,821.8 L43.2,828.9 L45.6,836.1 L48.2,843.3 L50.9,850.5 L53.9,857.6 L57.1,864.8 L60.5,872.0"/><path d="M51.8,661.0 L51.8,671.0 L51.9,681.6 L52.2,692.1 L52.6,702.7 L53.1,713.3 L53.7,723.9 L54.5,734.4 L55.3,745.0 L56.2,755.6 L57.2,766.1 L58.3,776.7 L59.5,787.3 L60.8,797.9 L62.1,808.4 L63.5,819.0 L65.1,829.6 L66.6,840.1 L68.3,850.7 L70.0,861.3 L71.8,871.9 L73.7,882.4 L75.7,893.0 L77.7,903.6 L79.8,914.1 L82.0,924.7 L84.2,935.3 L86.5,945.9 L88.9,956.4 L91.3,967.0"/><path d="M75.3,661.0 L75.3,671.0 L75.3,682.7 L75.5,694.4 L75.7,706.0 L76.0,717.7 L76.4,729.4 L76.8,741.1 L77.3,752.8 L77.9,764.4 L78.5,776.1 L79.3,787.8 L80.0,799.5 L80.9,811.1 L81.8,822.8 L82.8,834.5 L83.9,846.2 L85.0,857.9 L86.1,869.5 L87.4,881.2 L88.7,892.9 L90.1,904.6 L91.5,916.2 L93.0,927.9 L94.6,939.6 L96.2,951.3 L97.9,963.0 L99.6,974.6 L101.4,986.3 L103.3,998.0"/><path d="M96.3,661.0 L96.3,671.0 L96.3,682.7 L96.4,694.4 L96.5,706.0 L96.6,717.7 L96.8,729.4 L97.0,741.1 L97.2,752.8 L97.5,764.4 L97.8,776.1 L98.1,787.8 L98.5,799.5 L98.9,811.1 L99.3,822.8 L99.8,834.5 L100.3,846.2 L100.8,857.9 L101.3,869.5 L101.9,881.2 L102.5,892.9 L103.2,904.6 L103.8,916.2 L104.5,927.9 L105.2,939.6 L106.0,951.3 L106.8,963.0 L107.6,974.6 L108.4,986.3 L109.3,998.0"/><path d="M114.5,661.0 L114.5,671.0 L114.5,682.7 L114.5,694.4 L114.5,706.0 L114.5,717.7 L114.5,729.4 L114.5,741.1 L114.6,752.8 L114.6,764.4 L114.6,776.1 L114.6,787.8 L114.6,799.5 L114.7,811.1 L114.7,822.8 L114.7,834.5 L114.7,846.2 L114.8,857.9 L114.8,869.5 L114.8,881.2 L114.9,892.9 L114.9,904.6 L115.0,916.2 L115.0,927.9 L115.1,939.6 L115.1,951.3 L115.1,963.0 L115.2,974.6 L115.2,986.3 L115.3,998.0"/><path d="M121.3,661.0 L121.3,998.0"/><path d="M138.6,661.0 L138.6,671.0 L138.6,682.7 L138.5,694.4 L138.4,706.0 L138.3,717.7 L138.2,729.4 L138.0,741.1 L137.8,752.8 L137.6,764.4 L137.3,776.1 L137.0,787.8 L136.7,799.5 L136.3,811.1 L136.0,822.8 L135.6,834.5 L135.1,846.2 L134.7,857.9 L134.2,869.5 L133.7,881.2 L133.2,892.9 L132.6,904.6 L132.1,916.2 L131.5,927.9 L130.8,939.6 L130.2,951.3 L129.5,963.0 L128.8,974.6 L128.1,986.3 L127.3,998.0"/><path d="M155.8,661.0 L155.8,671.0 L155.8,682.7 L155.7,694.4 L155.5,706.0 L155.2,717.7 L154.9,729.4 L154.6,741.1 L154.2,752.8 L153.7,764.4 L153.2,776.1 L152.6,787.8 L152.0,799.5 L151.3,811.1 L150.6,822.8 L149.8,834.5 L148.9,846.2 L148.0,857.9 L147.1,869.5 L146.1,881.2 L145.0,892.9 L143.9,904.6 L142.8,916.2 L141.6,927.9 L140.3,939.6 L139.0,951.3 L137.7,963.0 L136.3,974.6 L134.8,986.3 L133.3,998.0"/><path d="M179.3,661.0 L179.3,671.0 L179.2,681.6 L179.0,692.1 L178.6,702.7 L178.2,713.3 L177.6,723.9 L177.0,734.4 L176.3,745.0 L175.5,755.6 L174.6,766.1 L173.7,776.7 L172.7,787.3 L171.6,797.9 L170.4,808.4 L169.2,819.0 L167.9,829.6 L166.5,840.1 L165.1,850.7 L163.6,861.3 L162.1,871.9 L160.4,882.4 L158.7,893.0 L157.0,903.6 L155.2,914.1 L153.3,924.7 L151.4,935.3 L149.4,945.9 L147.4,956.4 L145.3,967.0"/><path d="M207.3,661.0 L207.3,671.0 L207.3,678.2 L207.3,685.4 L207.3,692.5 L207.2,699.7 L207.2,706.9 L207.1,714.1 L206.9,721.2 L206.8,728.4 L206.5,735.6 L206.3,742.8 L206.0,750.0 L205.6,757.1 L205.2,764.3 L204.7,771.5 L204.2,778.7 L203.5,785.9 L202.8,793.0 L202.1,800.2 L201.2,807.4 L200.3,814.6 L199.3,821.8 L198.1,828.9 L196.9,836.1 L195.6,843.3 L194.2,850.5 L192.7,857.6 L191.0,864.8 L189.3,872.0"/><path d="M243.4,661.0 L243.4,671.0 L243.4,678.2 L243.4,685.4 L243.4,692.5 L243.5,699.7 L243.5,706.9 L243.6,714.1 L243.8,721.2 L243.9,728.4 L244.1,735.6 L244.4,742.8 L244.7,750.0 L245.0,757.1 L245.4,764.3 L245.9,771.5 L246.4,778.7 L247.1,785.9 L247.7,793.0 L248.5,800.2 L249.3,807.4 L250.2,814.6 L251.2,821.8 L252.3,828.9 L253.5,836.1 L254.8,843.3 L256.1,850.5 L257.6,857.6 L259.2,864.8 L260.9,872.0"/><path d="M269.9,661.0 L269.9,671.0 L270.0,681.6 L270.3,692.1 L270.7,702.7 L271.2,713.3 L271.8,723.9 L272.6,734.4 L273.4,745.0 L274.3,755.6 L275.3,766.1 L276.4,776.7 L277.6,787.3 L278.9,797.9 L280.2,808.4 L281.6,819.0 L283.2,829.6 L284.7,840.1 L286.4,850.7 L288.1,861.3 L289.9,871.9 L291.8,882.4 L293.8,893.0 L295.8,903.6 L297.9,914.1 L300.1,924.7 L302.3,935.3 L304.6,945.9 L307.0,956.4 L309.4,967.0"/><path d="M293.4,661.0 L293.4,671.0 L293.4,682.7 L293.6,694.4 L293.8,706.0 L294.1,717.7 L294.5,729.4 L294.9,741.1 L295.4,752.8 L296.0,764.4 L296.6,776.1 L297.4,787.8 L298.1,799.5 L299.0,811.1 L299.9,822.8 L300.9,834.5 L302.0,846.2 L303.1,857.9 L304.2,869.5 L305.5,881.2 L306.8,892.9 L308.2,904.6 L309.6,916.2 L311.1,927.9 L312.7,939.6 L314.3,951.3 L316.0,963.0 L317.7,974.6 L319.5,986.3 L321.4,998.0"/><path d="M314.4,661.0 L314.4,671.0 L314.4,682.7 L314.5,694.4 L314.6,706.0 L314.7,717.7 L314.9,729.4 L315.1,741.1 L315.3,752.8 L315.6,764.4 L315.9,776.1 L316.2,787.8 L316.6,799.5 L317.0,811.1 L317.4,822.8 L317.9,834.5 L318.4,846.2 L318.9,857.9 L319.4,869.5 L320.0,881.2 L320.6,892.9 L321.3,904.6 L321.9,916.2 L322.6,927.9 L323.3,939.6 L324.1,951.3 L324.9,963.0 L325.7,974.6 L326.5,986.3 L327.4,998.0"/><path d="M332.6,661.0 L332.6,671.0 L332.6,682.7 L332.6,694.4 L332.6,706.0 L332.6,717.7 L332.6,729.4 L332.6,741.1 L332.7,752.8 L332.7,764.4 L332.7,776.1 L332.7,787.8 L332.7,799.5 L332.8,811.1 L332.8,822.8 L332.8,834.5 L332.8,846.2 L332.9,857.9 L332.9,869.5 L332.9,881.2 L333.0,892.9 L333.0,904.6 L333.1,916.2 L333.1,927.9 L333.2,939.6 L333.2,951.3 L333.2,963.0 L333.3,974.6 L333.3,986.3 L333.4,998.0"/><path d="M339.4,661.0 L339.4,998.0"/><path d="M356.7,661.0 L356.7,671.0 L356.7,682.7 L356.6,694.4 L356.5,706.0 L356.4,717.7 L356.3,729.4 L356.1,741.1 L355.9,752.8 L355.7,764.4 L355.4,776.1 L355.1,787.8 L354.8,799.5 L354.4,811.1 L354.1,822.8 L353.7,834.5 L353.2,846.2 L352.8,857.9 L352.3,869.5 L351.8,881.2 L351.3,892.9 L350.7,904.6 L350.2,916.2 L349.6,927.9 L348.9,939.6 L348.3,951.3 L347.6,963.0 L346.9,974.6 L346.2,986.3 L345.4,998.0"/><path d="M373.9,661.0 L373.9,671.0 L373.9,682.7 L373.8,694.4 L373.6,706.0 L373.3,717.7 L373.0,729.4 L372.7,741.1 L372.3,752.8 L371.8,764.4 L371.3,776.1 L370.7,787.8 L370.1,799.5 L369.4,811.1 L368.7,822.8 L367.9,834.5 L367.0,846.2 L366.1,857.9 L365.2,869.5 L364.2,881.2 L363.1,892.9 L362.0,904.6 L360.9,916.2 L359.7,927.9 L358.4,939.6 L357.1,951.3 L355.8,963.0 L354.4,974.6 L352.9,986.3 L351.4,998.0"/><path d="M397.4,661.0 L397.4,671.0 L397.3,681.6 L397.1,692.1 L396.7,702.7 L396.3,713.3 L395.7,723.9 L395.1,734.4 L394.4,745.0 L393.6,755.6 L392.7,766.1 L391.8,776.7 L390.8,787.3 L389.7,797.9 L388.5,808.4 L387.3,819.0 L386.0,829.6 L384.6,840.1 L383.2,850.7 L381.7,861.3 L380.2,871.9 L378.5,882.4 L376.8,893.0 L375.1,903.6 L373.3,914.1 L371.4,924.7 L369.5,935.3 L367.5,945.9 L365.5,956.4 L363.4,967.0"/><path d="M425.4,661.0 L425.4,671.0 L425.4,678.2 L425.4,685.4 L425.4,692.5 L425.3,699.7 L425.3,706.9 L425.2,714.1 L425.0,721.2 L424.9,728.4 L424.6,735.6 L424.4,742.8 L424.1,750.0 L423.7,757.1 L423.3,764.3 L422.8,771.5 L422.3,778.7 L421.6,785.9 L420.9,793.0 L420.2,800.2 L419.3,807.4 L418.4,814.6 L417.4,821.8 L416.2,828.9 L415.0,836.1 L413.7,843.3 L412.3,850.5 L410.8,857.6 L409.1,864.8 L407.4,872.0"/><path d="M460.7,661.0 L460.7,671.0 L460.7,678.2 L460.7,685.4 L460.7,692.5 L460.8,699.7 L460.8,706.9 L460.9,714.1 L461.1,721.2 L461.2,728.4 L461.4,735.6 L461.7,742.8 L462.0,750.0 L462.3,757.1 L462.7,764.3 L463.2,771.5 L463.7,778.7 L464.4,785.9 L465.0,793.0 L465.8,800.2 L466.6,807.4 L467.5,814.6 L468.5,821.8 L469.6,828.9 L470.8,836.1 L472.1,843.3 L473.4,850.5 L474.9,857.6 L476.5,864.8 L478.2,872.0"/><path d="M487.2,661.0 L487.2,671.0 L487.3,681.6 L487.6,692.1 L488.0,702.7 L488.5,713.3 L489.1,723.9 L489.9,734.4 L490.7,745.0 L491.6,755.6 L492.6,766.1 L493.7,776.7 L494.9,787.3 L496.2,797.9 L497.5,808.4 L498.9,819.0 L500.5,829.6 L502.0,840.1 L503.7,850.7 L505.4,861.3 L507.2,871.9 L509.1,882.4 L511.1,893.0 L513.1,903.6 L515.2,914.1 L517.4,924.7 L519.6,935.3 L521.9,945.9 L524.3,956.4 L526.7,967.0"/><path d="M510.7,661.0 L510.7,671.0 L510.7,682.7 L510.9,694.4 L511.1,706.0 L511.4,717.7 L511.8,729.4 L512.2,741.1 L512.7,752.8 L513.3,764.4 L513.9,776.1 L514.7,787.8 L515.4,799.5 L516.3,811.1 L517.2,822.8 L518.2,834.5 L519.3,846.2 L520.4,857.9 L521.5,869.5 L522.8,881.2 L524.1,892.9 L525.5,904.6 L526.9,916.2 L528.4,927.9 L530.0,939.6 L531.6,951.3 L533.3,963.0 L535.0,974.6 L536.8,986.3 L538.7,998.0"/><path d="M531.7,661.0 L531.7,671.0 L531.7,682.7 L531.8,694.4 L531.9,706.0 L532.0,717.7 L532.2,729.4 L532.4,741.1 L532.6,752.8 L532.9,764.4 L533.2,776.1 L533.5,787.8 L533.9,799.5 L534.3,811.1 L534.7,822.8 L535.2,834.5 L535.7,846.2 L536.2,857.9 L536.7,869.5 L537.3,881.2 L537.9,892.9 L538.6,904.6 L539.2,916.2 L539.9,927.9 L540.6,939.6 L541.4,951.3 L542.2,963.0 L543.0,974.6 L543.8,986.3 L544.7,998.0"/><path d="M549.9,661.0 L549.9,671.0 L549.9,682.7 L549.9,694.4 L549.9,706.0 L549.9,717.7 L549.9,729.4 L549.9,741.1 L550.0,752.8 L550.0,764.4 L550.0,776.1 L550.0,787.8 L550.0,799.5 L550.1,811.1 L550.1,822.8 L550.1,834.5 L550.1,846.2 L550.2,857.9 L550.2,869.5 L550.2,881.2 L550.3,892.9 L550.3,904.6 L550.4,916.2 L550.4,927.9 L550.5,939.6 L550.5,951.3 L550.5,963.0 L550.6,974.6 L550.6,986.3 L550.7,998.0"/><path d="M556.7,661.0 L556.7,998.0"/><path d="M574.0,661.0 L574.0,671.0 L574.0,682.7 L573.9,694.4 L573.8,706.0 L573.7,717.7 L573.6,729.4 L573.4,741.1 L573.2,752.8 L573.0,764.4 L572.7,776.1 L572.4,787.8 L572.1,799.5 L571.7,811.1 L571.4,822.8 L571.0,834.5 L570.5,846.2 L570.1,857.9 L569.6,869.5 L569.1,881.2 L568.6,892.9 L568.0,904.6 L567.5,916.2 L566.9,927.9 L566.2,939.6 L565.6,951.3 L564.9,963.0 L564.2,974.6 L563.5,986.3 L562.7,998.0"/><path d="M591.2,661.0 L591.2,671.0 L591.2,682.7 L591.1,694.4 L590.9,706.0 L590.6,717.7 L590.3,729.4 L590.0,741.1 L589.6,752.8 L589.1,764.4 L588.6,776.1 L588.0,787.8 L587.4,799.5 L586.7,811.1 L586.0,822.8 L585.2,834.5 L584.3,846.2 L583.4,857.9 L582.5,869.5 L581.5,881.2 L580.4,892.9 L579.3,904.6 L578.2,916.2 L577.0,927.9 L575.7,939.6 L574.4,951.3 L573.1,963.0 L571.7,974.6 L570.2,986.3 L568.7,998.0"/><path d="M614.7,661.0 L614.7,671.0 L614.6,681.6 L614.4,692.1 L614.0,702.7 L613.6,713.3 L613.0,723.9 L612.4,734.4 L611.7,745.0 L610.9,755.6 L610.0,766.1 L609.1,776.7 L608.1,787.3 L607.0,797.9 L605.8,808.4 L604.6,819.0 L603.3,829.6 L601.9,840.1 L600.5,850.7 L599.0,861.3 L597.5,871.9 L595.8,882.4 L594.1,893.0 L592.4,903.6 L590.6,914.1 L588.7,924.7 L586.8,935.3 L584.8,945.9 L582.8,956.4 L580.7,967.0"/><path d="M642.7,661.0 L642.7,671.0 L642.7,678.2 L642.7,685.4 L642.7,692.5 L642.6,699.7 L642.6,706.9 L642.5,714.1 L642.3,721.2 L642.2,728.4 L641.9,735.6 L641.7,742.8 L641.4,750.0 L641.0,757.1 L640.6,764.3 L640.1,771.5 L639.6,778.7 L638.9,785.9 L638.2,793.0 L637.5,800.2 L636.6,807.4 L635.7,814.6 L634.7,821.8 L633.5,828.9 L632.3,836.1 L631.0,843.3 L629.6,850.5 L628.1,857.6 L626.4,864.8 L624.7,872.0"/><path d="M677.8,661.0 L677.8,671.0 L677.8,678.2 L677.8,685.4 L677.8,692.5 L677.9,699.7 L677.9,706.9 L678.0,714.1 L678.2,721.2 L678.3,728.4 L678.5,735.6 L678.8,742.8 L679.1,750.0 L679.4,757.1 L679.8,764.3 L680.3,771.5 L680.8,778.7 L681.5,785.9 L682.1,793.0 L682.9,800.2 L683.7,807.4 L684.6,814.6 L685.6,821.8 L686.7,828.9 L687.9,836.1 L689.2,843.3 L690.5,850.5 L692.0,857.6 L693.6,864.8 L695.3,872.0"/><path d="M704.3,661.0 L704.3,671.0 L704.4,681.6 L704.7,692.1 L705.1,702.7 L705.6,713.3 L706.2,723.9 L707.0,734.4 L707.8,745.0 L708.7,755.6 L709.7,766.1 L710.8,776.7 L712.0,787.3 L713.3,797.9 L714.6,808.4 L716.0,819.0 L717.6,829.6 L719.1,840.1 L720.8,850.7 L722.5,861.3 L724.3,871.9 L726.2,882.4 L728.2,893.0 L730.2,903.6 L732.3,914.1 L734.5,924.7 L736.7,935.3 L739.0,945.9 L741.4,956.4 L743.8,967.0"/><path d="M727.8,661.0 L727.8,671.0 L727.8,682.7 L728.0,694.4 L728.2,706.0 L728.5,717.7 L728.9,729.4 L729.3,741.1 L729.8,752.8 L730.4,764.4 L731.0,776.1 L731.8,787.8 L732.5,799.5 L733.4,811.1 L734.3,822.8 L735.3,834.5 L736.4,846.2 L737.5,857.9 L738.6,869.5 L739.9,881.2 L741.2,892.9 L742.6,904.6 L744.0,916.2 L745.5,927.9 L747.1,939.6 L748.7,951.3 L750.4,963.0 L752.1,974.6 L753.9,986.3 L755.8,998.0"/><path d="M748.8,661.0 L748.8,671.0 L748.8,682.7 L748.9,694.4 L749.0,706.0 L749.1,717.7 L749.3,729.4 L749.5,741.1 L749.7,752.8 L750.0,764.4 L750.3,776.1 L750.6,787.8 L751.0,799.5 L751.4,811.1 L751.8,822.8 L752.3,834.5 L752.8,846.2 L753.3,857.9 L753.8,869.5 L754.4,881.2 L755.0,892.9 L755.7,904.6 L756.3,916.2 L757.0,927.9 L757.7,939.6 L758.5,951.3 L759.3,963.0 L760.1,974.6 L760.9,986.3 L761.8,998.0"/><path d="M767.0,661.0 L767.0,671.0 L767.0,682.7 L767.0,694.4 L767.0,706.0 L767.0,717.7 L767.0,729.4 L767.0,741.1 L767.1,752.8 L767.1,764.4 L767.1,776.1 L767.1,787.8 L767.1,799.5 L767.2,811.1 L767.2,822.8 L767.2,834.5 L767.2,846.2 L767.3,857.9 L767.3,869.5 L767.3,881.2 L767.4,892.9 L767.4,904.6 L767.5,916.2 L767.5,927.9 L767.6,939.6 L767.6,951.3 L767.6,963.0 L767.7,974.6 L767.7,986.3 L767.8,998.0"/><path d="M773.8,661.0 L773.8,998.0"/><path d="M791.1,661.0 L791.1,671.0 L791.1,682.7 L791.0,694.4 L790.9,706.0 L790.8,717.7 L790.7,729.4 L790.5,741.1 L790.3,752.8 L790.1,764.4 L789.8,776.1 L789.5,787.8 L789.2,799.5 L788.8,811.1 L788.5,822.8 L788.1,834.5 L787.6,846.2 L787.2,857.9 L786.7,869.5 L786.2,881.2 L785.7,892.9 L785.1,904.6 L784.6,916.2 L784.0,927.9 L783.3,939.6 L782.7,951.3 L782.0,963.0 L781.3,974.6 L780.6,986.3 L779.8,998.0"/><path d="M808.3,661.0 L808.3,671.0 L808.3,682.7 L808.2,694.4 L808.0,706.0 L807.7,717.7 L807.4,729.4 L807.1,741.1 L806.7,752.8 L806.2,764.4 L805.7,776.1 L805.1,787.8 L804.5,799.5 L803.8,811.1 L803.1,822.8 L802.3,834.5 L801.4,846.2 L800.5,857.9 L799.6,869.5 L798.6,881.2 L797.5,892.9 L796.4,904.6 L795.3,916.2 L794.1,927.9 L792.8,939.6 L791.5,951.3 L790.2,963.0 L788.8,974.6 L787.3,986.3 L785.8,998.0"/><path d="M831.8,661.0 L831.8,671.0 L831.7,681.6 L831.5,692.1 L831.1,702.7 L830.7,713.3 L830.1,723.9 L829.5,734.4 L828.8,745.0 L828.0,755.6 L827.1,766.1 L826.2,776.7 L825.2,787.3 L824.1,797.9 L822.9,808.4 L821.7,819.0 L820.4,829.6 L819.0,840.1 L817.6,850.7 L816.1,861.3 L814.6,871.9 L812.9,882.4 L811.2,893.0 L809.5,903.6 L807.7,914.1 L805.8,924.7 L803.9,935.3 L801.9,945.9 L799.9,956.4 L797.8,967.0"/><path d="M859.8,661.0 L859.8,671.0 L859.8,678.2 L859.8,685.4 L859.8,692.5 L859.7,699.7 L859.7,706.9 L859.6,714.1 L859.4,721.2 L859.3,728.4 L859.0,735.6 L858.8,742.8 L858.5,750.0 L858.1,757.1 L857.7,764.3 L857.2,771.5 L856.7,778.7 L856.0,785.9 L855.3,793.0 L854.6,800.2 L853.7,807.4 L852.8,814.6 L851.8,821.8 L850.6,828.9 L849.4,836.1 L848.1,843.3 L846.7,850.5 L845.2,857.6 L843.5,864.8 L841.8,872.0"/><path d="M894.8,661.0 L894.8,671.0 L894.8,678.2 L894.8,685.4 L894.8,692.5 L894.9,699.7 L894.9,706.9 L895.0,714.1 L895.2,721.2 L895.3,728.4 L895.5,735.6 L895.8,742.8 L896.1,750.0 L896.4,757.1 L896.8,764.3 L897.3,771.5 L897.8,778.7 L898.5,785.9 L899.1,793.0 L899.9,800.2 L900.7,807.4 L901.6,814.6 L902.6,821.8 L903.7,828.9 L904.9,836.1 L906.2,843.3 L907.5,850.5 L909.0,857.6 L910.6,864.8 L912.3,872.0"/><path d="M921.3,661.0 L921.3,671.0 L921.4,681.6 L921.7,692.1 L922.1,702.7 L922.6,713.3 L923.2,723.9 L924.0,734.4 L924.8,745.0 L925.7,755.6 L926.7,766.1 L927.8,776.7 L929.0,787.3 L930.3,797.9 L931.6,808.4 L933.0,819.0 L934.6,829.6 L936.1,840.1 L937.8,850.7 L939.5,861.3 L941.3,871.9 L943.2,882.4 L945.2,893.0 L947.2,903.6 L949.3,914.1 L951.5,924.7 L953.7,935.3 L956.0,945.9 L958.4,956.4 L960.8,967.0"/><path d="M944.8,661.0 L944.8,671.0 L944.8,682.7 L945.0,694.4 L945.2,706.0 L945.5,717.7 L945.9,729.4 L946.3,741.1 L946.8,752.8 L947.4,764.4 L948.0,776.1 L948.8,787.8 L949.5,799.5 L950.4,811.1 L951.3,822.8 L952.3,834.5 L953.4,846.2 L954.5,857.9 L955.6,869.5 L956.9,881.2 L958.2,892.9 L959.6,904.6 L961.0,916.2 L962.5,927.9 L964.1,939.6 L965.7,951.3 L967.4,963.0 L969.1,974.6 L970.9,986.3 L972.8,998.0"/><path d="M965.8,661.0 L965.8,671.0 L965.8,682.7 L965.9,694.4 L966.0,706.0 L966.1,717.7 L966.3,729.4 L966.5,741.1 L966.7,752.8 L967.0,764.4 L967.3,776.1 L967.6,787.8 L968.0,799.5 L968.4,811.1 L968.8,822.8 L969.3,834.5 L969.8,846.2 L970.3,857.9 L970.8,869.5 L971.4,881.2 L972.0,892.9 L972.7,904.6 L973.3,916.2 L974.0,927.9 L974.7,939.6 L975.5,951.3 L976.3,963.0 L977.1,974.6 L977.9,986.3 L978.8,998.0"/><path d="M984.0,661.0 L984.0,671.0 L984.0,682.7 L984.0,694.4 L984.0,706.0 L984.0,717.7 L984.0,729.4 L984.0,741.1 L984.1,752.8 L984.1,764.4 L984.1,776.1 L984.1,787.8 L984.1,799.5 L984.2,811.1 L984.2,822.8 L984.2,834.5 L984.2,846.2 L984.3,857.9 L984.3,869.5 L984.3,881.2 L984.4,892.9 L984.4,904.6 L984.5,916.2 L984.5,927.9 L984.6,939.6 L984.6,951.3 L984.6,963.0 L984.7,974.6 L984.7,986.3 L984.8,998.0"/><path d="M990.8,661.0 L990.8,998.0"/><path d="M1008.1,661.0 L1008.1,671.0 L1008.1,682.7 L1008.0,694.4 L1007.9,706.0 L1007.8,717.7 L1007.7,729.4 L1007.5,741.1 L1007.3,752.8 L1007.1,764.4 L1006.8,776.1 L1006.5,787.8 L1006.2,799.5 L1005.8,811.1 L1005.5,822.8 L1005.1,834.5 L1004.6,846.2 L1004.2,857.9 L1003.7,869.5 L1003.2,881.2 L1002.7,892.9 L1002.1,904.6 L1001.6,916.2 L1001.0,927.9 L1000.3,939.6 L999.7,951.3 L999.0,963.0 L998.3,974.6 L997.6,986.3 L996.8,998.0"/><path d="M1025.3,661.0 L1025.3,671.0 L1025.3,682.7 L1025.2,694.4 L1025.0,706.0 L1024.7,717.7 L1024.4,729.4 L1024.1,741.1 L1023.7,752.8 L1023.2,764.4 L1022.7,776.1 L1022.1,787.8 L1021.5,799.5 L1020.8,811.1 L1020.1,822.8 L1019.3,834.5 L1018.4,846.2 L1017.5,857.9 L1016.6,869.5 L1015.6,881.2 L1014.5,892.9 L1013.4,904.6 L1012.3,916.2 L1011.1,927.9 L1009.8,939.6 L1008.5,951.3 L1007.2,963.0 L1005.8,974.6 L1004.3,986.3 L1002.8,998.0"/><path d="M1048.8,661.0 L1048.8,671.0 L1048.7,681.6 L1048.5,692.1 L1048.1,702.7 L1047.7,713.3 L1047.1,723.9 L1046.5,734.4 L1045.8,745.0 L1045.0,755.6 L1044.1,766.1 L1043.2,776.7 L1042.2,787.3 L1041.1,797.9 L1039.9,808.4 L1038.7,819.0 L1037.4,829.6 L1036.0,840.1 L1034.6,850.7 L1033.1,861.3 L1031.6,871.9 L1029.9,882.4 L1028.2,893.0 L1026.5,903.6 L1024.7,914.1 L1022.8,924.7 L1020.9,935.3 L1018.9,945.9 L1016.9,956.4 L1014.8,967.0"/><path d="M1076.8,661.0 L1076.8,671.0 L1076.8,678.2 L1076.8,685.4 L1076.8,692.5 L1076.7,699.7 L1076.7,706.9 L1076.6,714.1 L1076.4,721.2 L1076.3,728.4 L1076.0,735.6 L1075.8,742.8 L1075.5,750.0 L1075.1,757.1 L1074.7,764.3 L1074.2,771.5 L1073.7,778.7 L1073.0,785.9 L1072.3,793.0 L1071.6,800.2 L1070.7,807.4 L1069.8,814.6 L1068.8,821.8 L1067.6,828.9 L1066.4,836.1 L1065.1,843.3 L1063.7,850.5 L1062.2,857.6 L1060.5,864.8 L1058.8,872.0"/><path d="M1104.0,661.0 L1104.0,671.0 L1104.0,678.1 L1104.0,685.2 L1104.0,692.3 L1104.1,699.4 L1104.1,706.5 L1104.2,713.6 L1104.3,720.8 L1104.5,727.9 L1104.7,735.0 L1104.9,742.1 L1105.2,749.2 L1105.5,756.3 L1105.9,763.4 L1106.3,770.5 L1106.8,777.6 L1107.3,784.7 L1108.0,791.8 L1108.6,798.9 L1109.4,806.0 L1110.2,813.1 L1111.1,820.2 L1112.1,827.4 L1113.2,834.5 L1114.4,841.6 L1115.6,848.7 L1117.0,855.8 L1118.5,862.9 L1120.0,870.0"/></g>
<g fill="#ef841a"><circle cx="60.5" cy="872.0" r="4.6"/><circle cx="91.3" cy="967.0" r="5.2"/><circle cx="103.3" cy="998.0" r="5.2"/><circle cx="109.3" cy="998.0" r="5.2"/><circle cx="115.3" cy="998.0" r="5.2"/><circle cx="121.3" cy="998.0" r="5.2"/><circle cx="127.3" cy="998.0" r="5.2"/><circle cx="133.3" cy="998.0" r="5.2"/><circle cx="145.3" cy="967.0" r="5.2"/><circle cx="189.3" cy="872.0" r="4.6"/><circle cx="260.9" cy="872.0" r="4.6"/><circle cx="309.4" cy="967.0" r="5.2"/><circle cx="321.4" cy="998.0" r="5.2"/><circle cx="327.4" cy="998.0" r="5.2"/><circle cx="333.4" cy="998.0" r="5.2"/><circle cx="339.4" cy="998.0" r="5.2"/><circle cx="345.4" cy="998.0" r="5.2"/><circle cx="351.4" cy="998.0" r="5.2"/><circle cx="363.4" cy="967.0" r="5.2"/><circle cx="407.4" cy="872.0" r="4.6"/><circle cx="478.2" cy="872.0" r="4.6"/><circle cx="526.7" cy="967.0" r="5.2"/><circle cx="538.7" cy="998.0" r="5.2"/><circle cx="544.7" cy="998.0" r="5.2"/><circle cx="550.7" cy="998.0" r="5.2"/><circle cx="556.7" cy="998.0" r="5.2"/><circle cx="562.7" cy="998.0" r="5.2"/><circle cx="568.7" cy="998.0" r="5.2"/><circle cx="580.7" cy="967.0" r="5.2"/><circle cx="624.7" cy="872.0" r="4.6"/><circle cx="695.3" cy="872.0" r="4.6"/><circle cx="743.8" cy="967.0" r="5.2"/><circle cx="755.8" cy="998.0" r="5.2"/><circle cx="761.8" cy="998.0" r="5.2"/><circle cx="767.8" cy="998.0" r="5.2"/><circle cx="773.8" cy="998.0" r="5.2"/><circle cx="779.8" cy="998.0" r="5.2"/><circle cx="785.8" cy="998.0" r="5.2"/><circle cx="797.8" cy="967.0" r="5.2"/><circle cx="841.8" cy="872.0" r="4.6"/><circle cx="912.3" cy="872.0" r="4.6"/><circle cx="960.8" cy="967.0" r="5.2"/><circle cx="972.8" cy="998.0" r="5.2"/><circle cx="978.8" cy="998.0" r="5.2"/><circle cx="984.8" cy="998.0" r="5.2"/><circle cx="990.8" cy="998.0" r="5.2"/><circle cx="996.8" cy="998.0" r="5.2"/><circle cx="1002.8" cy="998.0" r="5.2"/><circle cx="1014.8" cy="967.0" r="5.2"/><circle cx="1058.8" cy="872.0" r="4.6"/><circle cx="1120.0" cy="870.0" r="4.6"/></g>
<clipPath id="clipBox1"><rect x="60" y="8.5" width="285.5" height="96.5" rx="6"/></clipPath><g clip-path="url(#clipBox1)" filter="url(#bsoft)"><rect x="60" y="8.5" width="285.5" height="96.5" fill="#80d24c"/><polygon points="60,8.5 345.5,8.5 331.5,24.5 74,24.5" fill="url(#gTopF)"/><polygon points="60,105.0 345.5,105.0 331.5,91.0 74,91.0" fill="url(#gBotF)"/><polygon points="60,8.5 74,24.5 74,91.0 60,105.0" fill="#72ca50"/><polygon points="345.5,8.5 331.5,24.5 331.5,91.0 345.5,105.0" fill="#72ca50"/></g><text x="83.5" y="69.8" font-family="Liberation Sans" font-weight="bold" font-size="43" fill="#151515" stroke="#80d24c" stroke-width="0.9">w/o Additive</text>
<clipPath id="clipBox2"><rect x="25" y="548" width="781" height="92" rx="6"/></clipPath><g clip-path="url(#clipBox2)" filter="url(#bsoft)"><rect x="25" y="548" width="781" height="92" fill="#80d24c"/><polygon points="25,548 806,548 792,564 39,564" fill="url(#gTopF)"/><polygon points="25,640 806,640 792,626 39,626" fill="url(#gBotF)"/><polygon points="25,548 39,564 39,626 25,640" fill="#72ca50"/><polygon points="806,548 792,564 792,626 806,640" fill="#72ca50"/></g><text x="82.5" y="605.7" font-family="Liberation Sans" font-weight="bold" font-size="43" fill="#151515" stroke="#80d24c" stroke-width="0.9">w/ Additive @ uniform layout</text>
<g stroke="#111" stroke-width="3.4" fill="none"><path d="M987,404.5 L1146,366.5"/><path d="M984.5,949 L1147,865"/></g>
<g fill="#111"><path d="M1168.5,360.5 L1141.5,354 L1146.5,380 Z"/><path d="M1168.5,852.3 L1140.5,852.3 L1153,876.5 Z"/></g>
<text x="1201" y="294.2" font-family="Liberation Sans" font-size="63" fill="#141414" stroke="#ffffff" stroke-width="1.1">Low current</text><text x="1201" y="368.8" font-family="Liberation Sans" font-size="63" fill="#141414" stroke="#ffffff" stroke-width="1.1">density in the</text><text x="1201" y="444.6" font-family="Liberation Sans" font-size="63" fill="#141414" stroke="#ffffff" stroke-width="1.1">bottom</text>
<text x="1201" y="666.8" font-family="Liberation Sans" font-size="63" fill="#141414" stroke="#ffffff" stroke-width="1.1">High current</text><text x="1201" y="741.4" font-family="Liberation Sans" font-size="63" fill="#141414" stroke="#ffffff" stroke-width="1.1">density in the</text><text x="1201" y="816.7" font-family="Liberation Sans" font-size="63" fill="#141414" stroke="#ffffff" stroke-width="1.1">bottom, while</text><text x="1201" y="891.5" font-family="Liberation Sans" font-size="63" fill="#141414" stroke="#ffffff" stroke-width="1.1">low current</text><text x="1201" y="967.0" font-family="Liberation Sans" font-size="63" fill="#141414" stroke="#ffffff" stroke-width="1.1">density at the</text><text x="1201" y="1041.5" font-family="Liberation Sans" font-size="63" fill="#141414" stroke="#ffffff" stroke-width="1.1">top corner.</text>
</svg>
</body></html>
